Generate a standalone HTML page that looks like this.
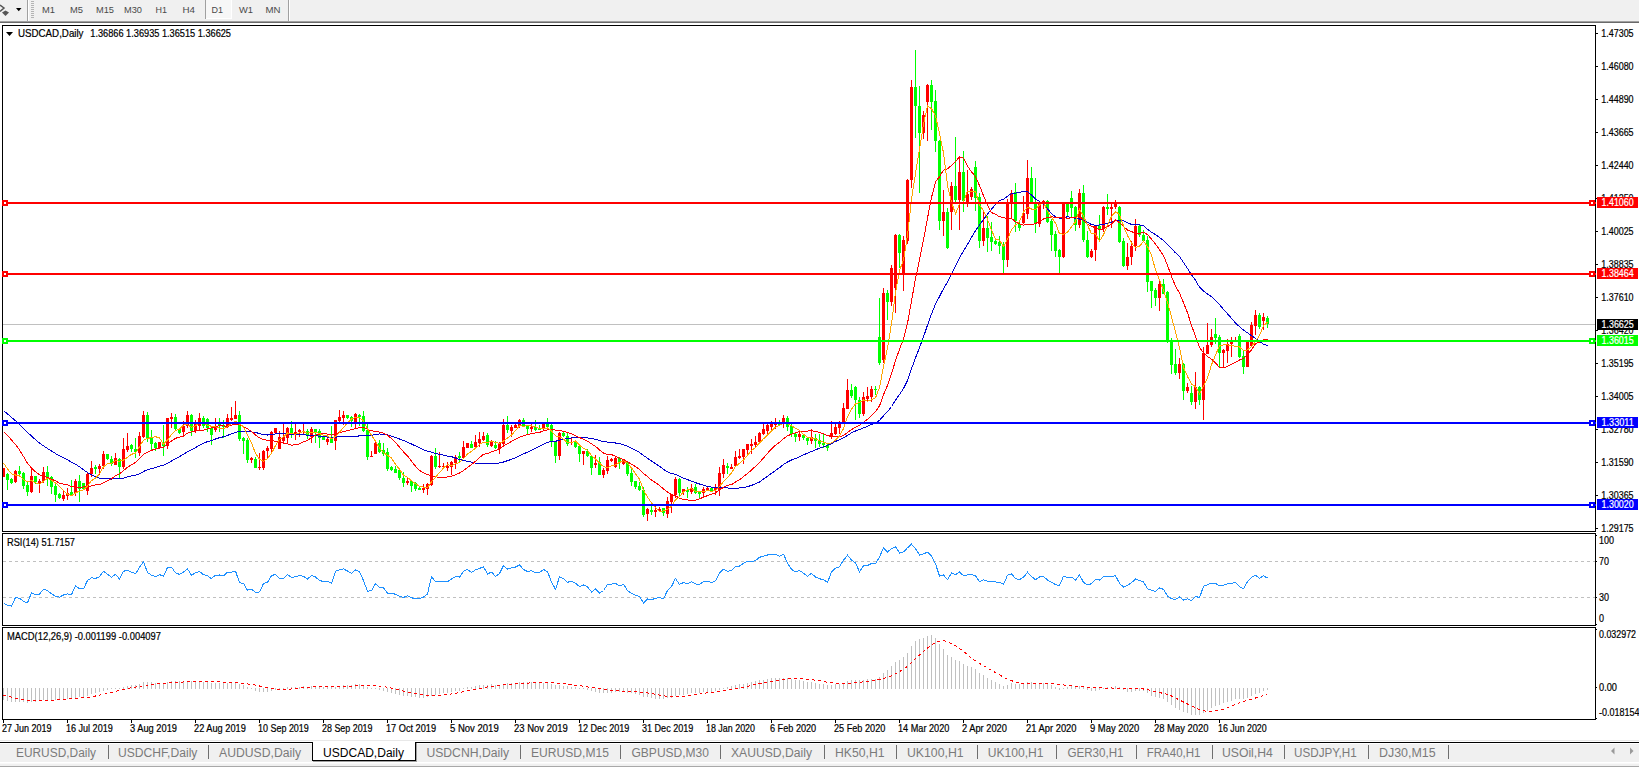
<!DOCTYPE html>
<html><head><meta charset="utf-8"><title>USDCAD,Daily</title>
<style>html,body{margin:0;padding:0;background:#fff;overflow:hidden}body{width:1639px;height:769px;position:relative;font-family:"Liberation Sans",sans-serif}svg text{font-family:"Liberation Sans",sans-serif}</style></head>
<body>
<svg width="1639" height="769" viewBox="0 0 1639 769" style="position:absolute;left:0;top:0" font-family="Liberation Sans, sans-serif">
<defs><clipPath id="cm"><rect x="3" y="26" width="1592" height="505"/></clipPath><clipPath id="cr"><rect x="3" y="534" width="1592" height="91"/></clipPath><clipPath id="cd"><rect x="3" y="628" width="1592" height="91"/></clipPath></defs>
<g shape-rendering="crispEdges">
<rect x="0" y="0" width="1639" height="769" fill="#fff"/>
<rect x="0" y="0" width="1639" height="21" fill="#f0f0f0"/>
<rect x="0" y="21" width="1639" height="1" fill="#a0a0a0"/>
<rect x="0" y="22" width="1639" height="1" fill="#696969"/>
<rect x="27" y="0" width="1" height="21" fill="#a0a0a0"/><rect x="28" y="0" width="1" height="21" fill="#fff"/>
<rect x="31" y="1" width="3" height="1" fill="#b4b4b4"/>
<rect x="31" y="3" width="3" height="1" fill="#b4b4b4"/>
<rect x="31" y="5" width="3" height="1" fill="#b4b4b4"/>
<rect x="31" y="7" width="3" height="1" fill="#b4b4b4"/>
<rect x="31" y="9" width="3" height="1" fill="#b4b4b4"/>
<rect x="31" y="11" width="3" height="1" fill="#b4b4b4"/>
<rect x="31" y="13" width="3" height="1" fill="#b4b4b4"/>
<rect x="31" y="15" width="3" height="1" fill="#b4b4b4"/>
<rect x="31" y="17" width="3" height="1" fill="#b4b4b4"/>
<rect x="205" y="0" width="1" height="19" fill="#a0a0a0"/>
<rect x="206" y="0" width="25" height="18" fill="#f7f7f7"/>
<rect x="206" y="18" width="26" height="1" fill="#fff"/><rect x="231" y="0" width="1" height="19" fill="#fff"/>
<rect x="288" y="0" width="1" height="21" fill="#a0a0a0"/><rect x="289" y="0" width="1" height="21" fill="#fff"/>
<rect x="2" y="25" width="1594" height="1" fill="#000"/>
<rect x="2" y="531" width="1594" height="1" fill="#000"/>
<rect x="2" y="25" width="1" height="507" fill="#000"/>
<rect x="1595" y="25" width="1" height="507" fill="#000"/>
<rect x="2" y="533" width="1594" height="1" fill="#000"/>
<rect x="2" y="625" width="1594" height="1" fill="#000"/>
<rect x="2" y="533" width="1" height="93" fill="#000"/>
<rect x="1595" y="533" width="1" height="93" fill="#000"/>
<rect x="2" y="627" width="1594" height="1" fill="#000"/>
<rect x="2" y="719" width="1594" height="1" fill="#000"/>
<rect x="2" y="627" width="1" height="93" fill="#000"/>
<rect x="1595" y="627" width="1" height="93" fill="#000"/>
<rect x="3" y="324" width="1592" height="1" fill="#c0c0c0"/>
<line x1="3" y1="561.5" x2="1595" y2="561.5" stroke="#c0c0c0" stroke-width="1" stroke-dasharray="3,3"/>
<line x1="3" y1="597.5" x2="1595" y2="597.5" stroke="#c0c0c0" stroke-width="1" stroke-dasharray="3,3"/>
<rect x="3" y="688" width="1" height="12" fill="#c0c0c0"/>
<rect x="7" y="688" width="1" height="13" fill="#c0c0c0"/>
<rect x="11" y="688" width="1" height="14" fill="#c0c0c0"/>
<rect x="15" y="688" width="1" height="14" fill="#c0c0c0"/>
<rect x="19" y="688" width="1" height="14" fill="#c0c0c0"/>
<rect x="23" y="688" width="1" height="14" fill="#c0c0c0"/>
<rect x="27" y="688" width="1" height="15" fill="#c0c0c0"/>
<rect x="31" y="688" width="1" height="14" fill="#c0c0c0"/>
<rect x="35" y="688" width="1" height="14" fill="#c0c0c0"/>
<rect x="39" y="688" width="1" height="13" fill="#c0c0c0"/>
<rect x="43" y="688" width="1" height="12" fill="#c0c0c0"/>
<rect x="47" y="688" width="1" height="12" fill="#c0c0c0"/>
<rect x="51" y="688" width="1" height="12" fill="#c0c0c0"/>
<rect x="55" y="688" width="1" height="12" fill="#c0c0c0"/>
<rect x="59" y="688" width="1" height="12" fill="#c0c0c0"/>
<rect x="63" y="688" width="1" height="12" fill="#c0c0c0"/>
<rect x="67" y="688" width="1" height="11" fill="#c0c0c0"/>
<rect x="71" y="688" width="1" height="11" fill="#c0c0c0"/>
<rect x="75" y="688" width="1" height="10" fill="#c0c0c0"/>
<rect x="79" y="688" width="1" height="9" fill="#c0c0c0"/>
<rect x="83" y="688" width="1" height="9" fill="#c0c0c0"/>
<rect x="87" y="688" width="1" height="8" fill="#c0c0c0"/>
<rect x="91" y="688" width="1" height="6" fill="#c0c0c0"/>
<rect x="95" y="688" width="1" height="5" fill="#c0c0c0"/>
<rect x="99" y="688" width="1" height="4" fill="#c0c0c0"/>
<rect x="103" y="688" width="1" height="3" fill="#c0c0c0"/>
<rect x="107" y="688" width="1" height="2" fill="#c0c0c0"/>
<rect x="111" y="688" width="1" height="1" fill="#c0c0c0"/>
<rect x="115" y="688" width="1" height="1" fill="#c0c0c0"/>
<rect x="119" y="688" width="1" height="1" fill="#c0c0c0"/>
<rect x="123" y="687" width="1" height="2" fill="#c0c0c0"/>
<rect x="127" y="686" width="1" height="3" fill="#c0c0c0"/>
<rect x="131" y="685" width="1" height="4" fill="#c0c0c0"/>
<rect x="135" y="685" width="1" height="4" fill="#c0c0c0"/>
<rect x="139" y="684" width="1" height="5" fill="#c0c0c0"/>
<rect x="143" y="682" width="1" height="7" fill="#c0c0c0"/>
<rect x="147" y="682" width="1" height="7" fill="#c0c0c0"/>
<rect x="151" y="682" width="1" height="7" fill="#c0c0c0"/>
<rect x="155" y="683" width="1" height="6" fill="#c0c0c0"/>
<rect x="159" y="683" width="1" height="6" fill="#c0c0c0"/>
<rect x="163" y="683" width="1" height="6" fill="#c0c0c0"/>
<rect x="167" y="682" width="1" height="7" fill="#c0c0c0"/>
<rect x="171" y="681" width="1" height="8" fill="#c0c0c0"/>
<rect x="175" y="681" width="1" height="8" fill="#c0c0c0"/>
<rect x="179" y="681" width="1" height="8" fill="#c0c0c0"/>
<rect x="183" y="681" width="1" height="8" fill="#c0c0c0"/>
<rect x="187" y="681" width="1" height="8" fill="#c0c0c0"/>
<rect x="191" y="681" width="1" height="8" fill="#c0c0c0"/>
<rect x="195" y="681" width="1" height="8" fill="#c0c0c0"/>
<rect x="199" y="681" width="1" height="8" fill="#c0c0c0"/>
<rect x="203" y="682" width="1" height="7" fill="#c0c0c0"/>
<rect x="207" y="682" width="1" height="7" fill="#c0c0c0"/>
<rect x="211" y="683" width="1" height="6" fill="#c0c0c0"/>
<rect x="215" y="683" width="1" height="6" fill="#c0c0c0"/>
<rect x="219" y="683" width="1" height="6" fill="#c0c0c0"/>
<rect x="223" y="683" width="1" height="6" fill="#c0c0c0"/>
<rect x="227" y="683" width="1" height="6" fill="#c0c0c0"/>
<rect x="231" y="683" width="1" height="6" fill="#c0c0c0"/>
<rect x="235" y="683" width="1" height="6" fill="#c0c0c0"/>
<rect x="239" y="684" width="1" height="5" fill="#c0c0c0"/>
<rect x="243" y="685" width="1" height="4" fill="#c0c0c0"/>
<rect x="247" y="687" width="1" height="2" fill="#c0c0c0"/>
<rect x="251" y="688" width="1" height="1" fill="#c0c0c0"/>
<rect x="255" y="688" width="1" height="3" fill="#c0c0c0"/>
<rect x="259" y="688" width="1" height="4" fill="#c0c0c0"/>
<rect x="263" y="688" width="1" height="4" fill="#c0c0c0"/>
<rect x="267" y="688" width="1" height="4" fill="#c0c0c0"/>
<rect x="271" y="688" width="1" height="3" fill="#c0c0c0"/>
<rect x="275" y="688" width="1" height="2" fill="#c0c0c0"/>
<rect x="279" y="688" width="1" height="1" fill="#c0c0c0"/>
<rect x="283" y="688" width="1" height="1" fill="#c0c0c0"/>
<rect x="287" y="687" width="1" height="2" fill="#c0c0c0"/>
<rect x="291" y="687" width="1" height="2" fill="#c0c0c0"/>
<rect x="295" y="687" width="1" height="2" fill="#c0c0c0"/>
<rect x="299" y="687" width="1" height="2" fill="#c0c0c0"/>
<rect x="303" y="686" width="1" height="3" fill="#c0c0c0"/>
<rect x="307" y="687" width="1" height="2" fill="#c0c0c0"/>
<rect x="311" y="686" width="1" height="3" fill="#c0c0c0"/>
<rect x="315" y="686" width="1" height="3" fill="#c0c0c0"/>
<rect x="319" y="687" width="1" height="2" fill="#c0c0c0"/>
<rect x="323" y="687" width="1" height="2" fill="#c0c0c0"/>
<rect x="327" y="687" width="1" height="2" fill="#c0c0c0"/>
<rect x="331" y="687" width="1" height="2" fill="#c0c0c0"/>
<rect x="335" y="687" width="1" height="2" fill="#c0c0c0"/>
<rect x="339" y="686" width="1" height="3" fill="#c0c0c0"/>
<rect x="343" y="685" width="1" height="4" fill="#c0c0c0"/>
<rect x="347" y="685" width="1" height="4" fill="#c0c0c0"/>
<rect x="351" y="685" width="1" height="4" fill="#c0c0c0"/>
<rect x="355" y="684" width="1" height="5" fill="#c0c0c0"/>
<rect x="359" y="684" width="1" height="5" fill="#c0c0c0"/>
<rect x="363" y="685" width="1" height="4" fill="#c0c0c0"/>
<rect x="367" y="687" width="1" height="2" fill="#c0c0c0"/>
<rect x="371" y="688" width="1" height="1" fill="#c0c0c0"/>
<rect x="375" y="688" width="1" height="1" fill="#c0c0c0"/>
<rect x="379" y="688" width="1" height="2" fill="#c0c0c0"/>
<rect x="383" y="688" width="1" height="3" fill="#c0c0c0"/>
<rect x="387" y="688" width="1" height="4" fill="#c0c0c0"/>
<rect x="391" y="688" width="1" height="5" fill="#c0c0c0"/>
<rect x="395" y="688" width="1" height="6" fill="#c0c0c0"/>
<rect x="399" y="688" width="1" height="7" fill="#c0c0c0"/>
<rect x="403" y="688" width="1" height="8" fill="#c0c0c0"/>
<rect x="407" y="688" width="1" height="8" fill="#c0c0c0"/>
<rect x="411" y="688" width="1" height="9" fill="#c0c0c0"/>
<rect x="415" y="688" width="1" height="9" fill="#c0c0c0"/>
<rect x="419" y="688" width="1" height="10" fill="#c0c0c0"/>
<rect x="423" y="688" width="1" height="10" fill="#c0c0c0"/>
<rect x="427" y="688" width="1" height="9" fill="#c0c0c0"/>
<rect x="431" y="688" width="1" height="8" fill="#c0c0c0"/>
<rect x="435" y="688" width="1" height="7" fill="#c0c0c0"/>
<rect x="439" y="688" width="1" height="6" fill="#c0c0c0"/>
<rect x="443" y="688" width="1" height="5" fill="#c0c0c0"/>
<rect x="447" y="688" width="1" height="5" fill="#c0c0c0"/>
<rect x="451" y="688" width="1" height="4" fill="#c0c0c0"/>
<rect x="455" y="688" width="1" height="3" fill="#c0c0c0"/>
<rect x="459" y="688" width="1" height="3" fill="#c0c0c0"/>
<rect x="463" y="688" width="1" height="1" fill="#c0c0c0"/>
<rect x="467" y="687" width="1" height="2" fill="#c0c0c0"/>
<rect x="471" y="687" width="1" height="2" fill="#c0c0c0"/>
<rect x="475" y="686" width="1" height="3" fill="#c0c0c0"/>
<rect x="479" y="685" width="1" height="4" fill="#c0c0c0"/>
<rect x="483" y="685" width="1" height="4" fill="#c0c0c0"/>
<rect x="487" y="685" width="1" height="4" fill="#c0c0c0"/>
<rect x="491" y="684" width="1" height="5" fill="#c0c0c0"/>
<rect x="495" y="685" width="1" height="4" fill="#c0c0c0"/>
<rect x="499" y="685" width="1" height="4" fill="#c0c0c0"/>
<rect x="503" y="684" width="1" height="5" fill="#c0c0c0"/>
<rect x="507" y="683" width="1" height="6" fill="#c0c0c0"/>
<rect x="511" y="683" width="1" height="6" fill="#c0c0c0"/>
<rect x="515" y="683" width="1" height="6" fill="#c0c0c0"/>
<rect x="519" y="682" width="1" height="7" fill="#c0c0c0"/>
<rect x="523" y="682" width="1" height="7" fill="#c0c0c0"/>
<rect x="527" y="682" width="1" height="7" fill="#c0c0c0"/>
<rect x="531" y="682" width="1" height="7" fill="#c0c0c0"/>
<rect x="535" y="683" width="1" height="6" fill="#c0c0c0"/>
<rect x="539" y="683" width="1" height="6" fill="#c0c0c0"/>
<rect x="543" y="683" width="1" height="6" fill="#c0c0c0"/>
<rect x="547" y="683" width="1" height="6" fill="#c0c0c0"/>
<rect x="551" y="684" width="1" height="5" fill="#c0c0c0"/>
<rect x="555" y="685" width="1" height="4" fill="#c0c0c0"/>
<rect x="559" y="685" width="1" height="4" fill="#c0c0c0"/>
<rect x="563" y="686" width="1" height="3" fill="#c0c0c0"/>
<rect x="567" y="686" width="1" height="3" fill="#c0c0c0"/>
<rect x="571" y="687" width="1" height="2" fill="#c0c0c0"/>
<rect x="575" y="687" width="1" height="2" fill="#c0c0c0"/>
<rect x="579" y="688" width="1" height="1" fill="#c0c0c0"/>
<rect x="583" y="688" width="1" height="1" fill="#c0c0c0"/>
<rect x="587" y="688" width="1" height="2" fill="#c0c0c0"/>
<rect x="591" y="688" width="1" height="3" fill="#c0c0c0"/>
<rect x="595" y="688" width="1" height="4" fill="#c0c0c0"/>
<rect x="599" y="688" width="1" height="5" fill="#c0c0c0"/>
<rect x="603" y="688" width="1" height="5" fill="#c0c0c0"/>
<rect x="607" y="688" width="1" height="5" fill="#c0c0c0"/>
<rect x="611" y="688" width="1" height="5" fill="#c0c0c0"/>
<rect x="615" y="688" width="1" height="4" fill="#c0c0c0"/>
<rect x="619" y="688" width="1" height="4" fill="#c0c0c0"/>
<rect x="623" y="688" width="1" height="4" fill="#c0c0c0"/>
<rect x="627" y="688" width="1" height="5" fill="#c0c0c0"/>
<rect x="631" y="688" width="1" height="5" fill="#c0c0c0"/>
<rect x="635" y="688" width="1" height="6" fill="#c0c0c0"/>
<rect x="639" y="688" width="1" height="7" fill="#c0c0c0"/>
<rect x="643" y="688" width="1" height="9" fill="#c0c0c0"/>
<rect x="647" y="688" width="1" height="9" fill="#c0c0c0"/>
<rect x="651" y="688" width="1" height="10" fill="#c0c0c0"/>
<rect x="655" y="688" width="1" height="11" fill="#c0c0c0"/>
<rect x="659" y="688" width="1" height="11" fill="#c0c0c0"/>
<rect x="663" y="688" width="1" height="11" fill="#c0c0c0"/>
<rect x="667" y="688" width="1" height="10" fill="#c0c0c0"/>
<rect x="671" y="688" width="1" height="10" fill="#c0c0c0"/>
<rect x="675" y="688" width="1" height="8" fill="#c0c0c0"/>
<rect x="679" y="688" width="1" height="7" fill="#c0c0c0"/>
<rect x="683" y="688" width="1" height="7" fill="#c0c0c0"/>
<rect x="687" y="688" width="1" height="6" fill="#c0c0c0"/>
<rect x="691" y="688" width="1" height="5" fill="#c0c0c0"/>
<rect x="695" y="688" width="1" height="5" fill="#c0c0c0"/>
<rect x="699" y="688" width="1" height="5" fill="#c0c0c0"/>
<rect x="703" y="688" width="1" height="4" fill="#c0c0c0"/>
<rect x="707" y="688" width="1" height="4" fill="#c0c0c0"/>
<rect x="711" y="688" width="1" height="4" fill="#c0c0c0"/>
<rect x="715" y="688" width="1" height="3" fill="#c0c0c0"/>
<rect x="719" y="688" width="1" height="2" fill="#c0c0c0"/>
<rect x="723" y="688" width="1" height="1" fill="#c0c0c0"/>
<rect x="727" y="687" width="1" height="2" fill="#c0c0c0"/>
<rect x="731" y="686" width="1" height="3" fill="#c0c0c0"/>
<rect x="735" y="685" width="1" height="4" fill="#c0c0c0"/>
<rect x="739" y="684" width="1" height="5" fill="#c0c0c0"/>
<rect x="743" y="684" width="1" height="5" fill="#c0c0c0"/>
<rect x="747" y="683" width="1" height="6" fill="#c0c0c0"/>
<rect x="751" y="682" width="1" height="7" fill="#c0c0c0"/>
<rect x="755" y="681" width="1" height="8" fill="#c0c0c0"/>
<rect x="759" y="680" width="1" height="9" fill="#c0c0c0"/>
<rect x="763" y="680" width="1" height="9" fill="#c0c0c0"/>
<rect x="767" y="679" width="1" height="10" fill="#c0c0c0"/>
<rect x="771" y="678" width="1" height="11" fill="#c0c0c0"/>
<rect x="775" y="678" width="1" height="11" fill="#c0c0c0"/>
<rect x="779" y="678" width="1" height="11" fill="#c0c0c0"/>
<rect x="783" y="678" width="1" height="11" fill="#c0c0c0"/>
<rect x="787" y="678" width="1" height="11" fill="#c0c0c0"/>
<rect x="791" y="679" width="1" height="10" fill="#c0c0c0"/>
<rect x="795" y="680" width="1" height="9" fill="#c0c0c0"/>
<rect x="799" y="680" width="1" height="9" fill="#c0c0c0"/>
<rect x="803" y="681" width="1" height="8" fill="#c0c0c0"/>
<rect x="807" y="682" width="1" height="7" fill="#c0c0c0"/>
<rect x="811" y="682" width="1" height="7" fill="#c0c0c0"/>
<rect x="815" y="683" width="1" height="6" fill="#c0c0c0"/>
<rect x="819" y="684" width="1" height="5" fill="#c0c0c0"/>
<rect x="823" y="684" width="1" height="5" fill="#c0c0c0"/>
<rect x="827" y="685" width="1" height="4" fill="#c0c0c0"/>
<rect x="831" y="685" width="1" height="4" fill="#c0c0c0"/>
<rect x="835" y="684" width="1" height="5" fill="#c0c0c0"/>
<rect x="839" y="684" width="1" height="5" fill="#c0c0c0"/>
<rect x="843" y="683" width="1" height="6" fill="#c0c0c0"/>
<rect x="847" y="681" width="1" height="8" fill="#c0c0c0"/>
<rect x="851" y="680" width="1" height="9" fill="#c0c0c0"/>
<rect x="855" y="680" width="1" height="9" fill="#c0c0c0"/>
<rect x="859" y="680" width="1" height="9" fill="#c0c0c0"/>
<rect x="863" y="680" width="1" height="9" fill="#c0c0c0"/>
<rect x="867" y="679" width="1" height="10" fill="#c0c0c0"/>
<rect x="871" y="679" width="1" height="10" fill="#c0c0c0"/>
<rect x="875" y="679" width="1" height="10" fill="#c0c0c0"/>
<rect x="879" y="677" width="1" height="12" fill="#c0c0c0"/>
<rect x="883" y="673" width="1" height="16" fill="#c0c0c0"/>
<rect x="887" y="670" width="1" height="19" fill="#c0c0c0"/>
<rect x="891" y="666" width="1" height="23" fill="#c0c0c0"/>
<rect x="895" y="662" width="1" height="27" fill="#c0c0c0"/>
<rect x="899" y="660" width="1" height="29" fill="#c0c0c0"/>
<rect x="903" y="657" width="1" height="32" fill="#c0c0c0"/>
<rect x="907" y="653" width="1" height="36" fill="#c0c0c0"/>
<rect x="911" y="646" width="1" height="43" fill="#c0c0c0"/>
<rect x="915" y="641" width="1" height="48" fill="#c0c0c0"/>
<rect x="919" y="639" width="1" height="50" fill="#c0c0c0"/>
<rect x="923" y="638" width="1" height="51" fill="#c0c0c0"/>
<rect x="927" y="636" width="1" height="53" fill="#c0c0c0"/>
<rect x="931" y="635" width="1" height="54" fill="#c0c0c0"/>
<rect x="935" y="638" width="1" height="51" fill="#c0c0c0"/>
<rect x="939" y="644" width="1" height="45" fill="#c0c0c0"/>
<rect x="943" y="649" width="1" height="40" fill="#c0c0c0"/>
<rect x="947" y="655" width="1" height="34" fill="#c0c0c0"/>
<rect x="951" y="657" width="1" height="32" fill="#c0c0c0"/>
<rect x="955" y="660" width="1" height="29" fill="#c0c0c0"/>
<rect x="959" y="661" width="1" height="28" fill="#c0c0c0"/>
<rect x="963" y="664" width="1" height="25" fill="#c0c0c0"/>
<rect x="967" y="666" width="1" height="23" fill="#c0c0c0"/>
<rect x="971" y="667" width="1" height="22" fill="#c0c0c0"/>
<rect x="975" y="669" width="1" height="20" fill="#c0c0c0"/>
<rect x="979" y="673" width="1" height="16" fill="#c0c0c0"/>
<rect x="983" y="675" width="1" height="14" fill="#c0c0c0"/>
<rect x="987" y="678" width="1" height="11" fill="#c0c0c0"/>
<rect x="991" y="680" width="1" height="9" fill="#c0c0c0"/>
<rect x="995" y="682" width="1" height="7" fill="#c0c0c0"/>
<rect x="999" y="684" width="1" height="5" fill="#c0c0c0"/>
<rect x="1003" y="686" width="1" height="3" fill="#c0c0c0"/>
<rect x="1007" y="685" width="1" height="4" fill="#c0c0c0"/>
<rect x="1011" y="683" width="1" height="6" fill="#c0c0c0"/>
<rect x="1015" y="684" width="1" height="5" fill="#c0c0c0"/>
<rect x="1019" y="684" width="1" height="5" fill="#c0c0c0"/>
<rect x="1023" y="684" width="1" height="5" fill="#c0c0c0"/>
<rect x="1027" y="682" width="1" height="7" fill="#c0c0c0"/>
<rect x="1031" y="682" width="1" height="7" fill="#c0c0c0"/>
<rect x="1035" y="683" width="1" height="6" fill="#c0c0c0"/>
<rect x="1039" y="683" width="1" height="6" fill="#c0c0c0"/>
<rect x="1043" y="683" width="1" height="6" fill="#c0c0c0"/>
<rect x="1047" y="684" width="1" height="5" fill="#c0c0c0"/>
<rect x="1051" y="685" width="1" height="4" fill="#c0c0c0"/>
<rect x="1055" y="687" width="1" height="2" fill="#c0c0c0"/>
<rect x="1059" y="688" width="1" height="2" fill="#c0c0c0"/>
<rect x="1063" y="688" width="1" height="1" fill="#c0c0c0"/>
<rect x="1067" y="687" width="1" height="2" fill="#c0c0c0"/>
<rect x="1071" y="686" width="1" height="3" fill="#c0c0c0"/>
<rect x="1075" y="687" width="1" height="2" fill="#c0c0c0"/>
<rect x="1079" y="686" width="1" height="3" fill="#c0c0c0"/>
<rect x="1083" y="687" width="1" height="2" fill="#c0c0c0"/>
<rect x="1087" y="688" width="1" height="2" fill="#c0c0c0"/>
<rect x="1091" y="688" width="1" height="3" fill="#c0c0c0"/>
<rect x="1095" y="688" width="1" height="3" fill="#c0c0c0"/>
<rect x="1099" y="688" width="1" height="2" fill="#c0c0c0"/>
<rect x="1103" y="688" width="1" height="1" fill="#c0c0c0"/>
<rect x="1107" y="687" width="1" height="2" fill="#c0c0c0"/>
<rect x="1111" y="687" width="1" height="2" fill="#c0c0c0"/>
<rect x="1115" y="686" width="1" height="3" fill="#c0c0c0"/>
<rect x="1119" y="687" width="1" height="2" fill="#c0c0c0"/>
<rect x="1123" y="688" width="1" height="2" fill="#c0c0c0"/>
<rect x="1127" y="688" width="1" height="4" fill="#c0c0c0"/>
<rect x="1131" y="688" width="1" height="4" fill="#c0c0c0"/>
<rect x="1135" y="688" width="1" height="3" fill="#c0c0c0"/>
<rect x="1139" y="688" width="1" height="3" fill="#c0c0c0"/>
<rect x="1143" y="688" width="1" height="3" fill="#c0c0c0"/>
<rect x="1147" y="688" width="1" height="5" fill="#c0c0c0"/>
<rect x="1151" y="688" width="1" height="8" fill="#c0c0c0"/>
<rect x="1155" y="688" width="1" height="9" fill="#c0c0c0"/>
<rect x="1159" y="688" width="1" height="10" fill="#c0c0c0"/>
<rect x="1163" y="688" width="1" height="11" fill="#c0c0c0"/>
<rect x="1167" y="688" width="1" height="14" fill="#c0c0c0"/>
<rect x="1171" y="688" width="1" height="17" fill="#c0c0c0"/>
<rect x="1175" y="688" width="1" height="20" fill="#c0c0c0"/>
<rect x="1179" y="688" width="1" height="22" fill="#c0c0c0"/>
<rect x="1183" y="688" width="1" height="24" fill="#c0c0c0"/>
<rect x="1187" y="688" width="1" height="25" fill="#c0c0c0"/>
<rect x="1191" y="688" width="1" height="27" fill="#c0c0c0"/>
<rect x="1195" y="688" width="1" height="27" fill="#c0c0c0"/>
<rect x="1199" y="688" width="1" height="27" fill="#c0c0c0"/>
<rect x="1203" y="688" width="1" height="25" fill="#c0c0c0"/>
<rect x="1207" y="688" width="1" height="23" fill="#c0c0c0"/>
<rect x="1211" y="688" width="1" height="20" fill="#c0c0c0"/>
<rect x="1215" y="688" width="1" height="18" fill="#c0c0c0"/>
<rect x="1219" y="688" width="1" height="17" fill="#c0c0c0"/>
<rect x="1223" y="688" width="1" height="15" fill="#c0c0c0"/>
<rect x="1227" y="688" width="1" height="14" fill="#c0c0c0"/>
<rect x="1231" y="688" width="1" height="13" fill="#c0c0c0"/>
<rect x="1235" y="688" width="1" height="11" fill="#c0c0c0"/>
<rect x="1239" y="688" width="1" height="11" fill="#c0c0c0"/>
<rect x="1243" y="688" width="1" height="11" fill="#c0c0c0"/>
<rect x="1247" y="688" width="1" height="10" fill="#c0c0c0"/>
<rect x="1251" y="688" width="1" height="8" fill="#c0c0c0"/>
<rect x="1255" y="688" width="1" height="6" fill="#c0c0c0"/>
<rect x="1259" y="688" width="1" height="5" fill="#c0c0c0"/>
<rect x="1263" y="688" width="1" height="3" fill="#c0c0c0"/>
<rect x="1267" y="688" width="1" height="2" fill="#c0c0c0"/>
</g>
<g clip-path="url(#cd)">
<polyline points="3.5,695.1 7.5,696.1 11.5,697.2 15.5,698.1 19.5,699.0 23.5,699.7 27.5,700.3 31.5,700.7 35.5,700.9 39.5,701.0 43.5,700.9 47.5,700.6 51.5,700.3 55.5,700.0 59.5,699.8 63.5,699.4 67.5,699.1 71.5,698.8 75.5,698.4 79.5,698.1 83.5,697.8 87.5,697.4 91.5,696.8 95.5,696.0 99.5,695.2 103.5,694.3 107.5,693.2 111.5,692.3 115.5,691.3 119.5,690.4 123.5,689.5 127.5,688.6 131.5,687.8 135.5,687.1 139.5,686.5 143.5,685.8 147.5,685.1 151.5,684.5 155.5,683.9 159.5,683.5 163.5,683.2 167.5,682.9 171.5,682.5 175.5,682.2 179.5,682.1 183.5,682.0 187.5,681.9 191.5,681.7 195.5,681.5 199.5,681.3 203.5,681.3 207.5,681.4 211.5,681.6 215.5,681.7 219.5,681.9 223.5,682.2 227.5,682.4 231.5,682.6 235.5,682.8 239.5,683.1 243.5,683.4 247.5,683.9 251.5,684.4 255.5,685.1 259.5,686.0 263.5,686.8 267.5,687.6 271.5,688.3 275.5,688.9 279.5,689.2 283.5,689.4 287.5,689.3 291.5,689.0 295.5,688.6 299.5,688.1 303.5,687.7 307.5,687.4 311.5,687.1 315.5,686.9 319.5,686.7 323.5,686.7 327.5,686.6 331.5,686.7 335.5,686.7 339.5,686.6 343.5,686.5 347.5,686.3 351.5,686.1 355.5,685.9 359.5,685.6 363.5,685.3 367.5,685.2 371.5,685.4 375.5,685.6 379.5,686.1 383.5,686.6 387.5,687.3 391.5,688.2 395.5,689.2 399.5,690.2 403.5,691.1 407.5,691.9 411.5,692.7 415.5,693.5 419.5,694.3 423.5,694.9 427.5,695.3 431.5,695.5 435.5,695.5 439.5,695.3 443.5,695.0 447.5,694.6 451.5,694.0 455.5,693.3 459.5,692.5 463.5,691.6 467.5,690.8 471.5,690.0 475.5,689.3 479.5,688.5 483.5,687.7 487.5,687.0 491.5,686.4 495.5,685.9 499.5,685.4 503.5,685.0 507.5,684.6 511.5,684.3 515.5,684.0 519.5,683.7 523.5,683.4 527.5,683.1 531.5,682.8 535.5,682.6 539.5,682.5 543.5,682.5 547.5,682.5 551.5,682.6 555.5,683.0 559.5,683.4 563.5,683.8 567.5,684.2 571.5,684.7 575.5,685.2 579.5,685.7 583.5,686.3 587.5,686.9 591.5,687.4 595.5,688.0 599.5,688.6 603.5,689.3 607.5,689.8 611.5,690.3 615.5,690.7 619.5,691.0 623.5,691.3 627.5,691.5 631.5,691.7 635.5,691.8 639.5,692.0 643.5,692.5 647.5,693.0 651.5,693.6 655.5,694.3 659.5,695.1 663.5,695.8 667.5,696.4 671.5,696.7 675.5,696.9 679.5,696.8 683.5,696.4 687.5,696.0 691.5,695.4 695.5,694.8 699.5,694.1 703.5,693.4 707.5,692.8 711.5,692.3 715.5,691.8 719.5,691.3 723.5,690.7 727.5,690.1 731.5,689.5 735.5,688.8 739.5,688.0 743.5,687.2 747.5,686.3 751.5,685.3 755.5,684.5 759.5,683.6 763.5,682.8 767.5,682.0 771.5,681.2 775.5,680.5 779.5,679.9 783.5,679.3 787.5,678.9 791.5,678.6 795.5,678.5 799.5,678.6 803.5,678.8 807.5,679.2 811.5,679.6 815.5,680.2 819.5,680.8 823.5,681.5 827.5,682.2 831.5,682.8 835.5,683.3 839.5,683.6 843.5,683.7 847.5,683.6 851.5,683.3 855.5,682.9 859.5,682.4 863.5,681.8 867.5,681.2 871.5,680.6 875.5,680.1 879.5,679.4 883.5,678.5 887.5,677.4 891.5,675.9 895.5,673.8 899.5,671.6 903.5,669.1 907.5,666.3 911.5,662.6 915.5,658.6 919.5,654.9 923.5,651.3 927.5,648.0 931.5,645.0 935.5,642.6 939.5,641.1 943.5,640.7 947.5,641.7 951.5,643.5 955.5,645.8 959.5,648.4 963.5,651.5 967.5,654.8 971.5,658.1 975.5,660.8 979.5,663.5 983.5,665.7 987.5,668.0 991.5,670.2 995.5,672.6 999.5,674.8 1003.5,677.1 1007.5,679.1 1011.5,680.7 1015.5,681.9 1019.5,683.0 1023.5,683.7 1027.5,683.9 1031.5,684.0 1035.5,683.9 1039.5,683.6 1043.5,683.3 1047.5,683.4 1051.5,683.5 1055.5,683.8 1059.5,684.3 1063.5,684.9 1067.5,685.4 1071.5,685.8 1075.5,686.2 1079.5,686.5 1083.5,686.9 1087.5,687.3 1091.5,687.6 1095.5,687.6 1099.5,687.8 1103.5,688.0 1107.5,688.1 1111.5,688.0 1115.5,688.1 1119.5,688.1 1123.5,688.2 1127.5,688.2 1131.5,688.4 1135.5,688.5 1139.5,688.7 1143.5,689.0 1147.5,689.7 1151.5,690.6 1155.5,691.7 1159.5,692.6 1163.5,693.4 1167.5,694.5 1171.5,696.0 1175.5,697.9 1179.5,700.0 1183.5,702.0 1187.5,704.0 1191.5,705.9 1195.5,707.8 1199.5,709.6 1203.5,710.8 1207.5,711.4 1211.5,711.4 1215.5,711.0 1219.5,710.2 1223.5,709.1 1227.5,707.7 1231.5,706.1 1235.5,704.3 1239.5,702.7 1243.5,701.4 1247.5,700.3 1251.5,699.2 1255.5,698.0 1259.5,696.8 1263.5,695.6 1267.5,694.5" fill="none" stroke="#ff0000" stroke-width="1" stroke-dasharray="3,3" shape-rendering="crispEdges"/>
</g>
<g clip-path="url(#cr)">
<polyline points="3.5,602.9 7.5,605.5 11.5,606.1 15.5,597.5 19.5,598.3 23.5,601.4 27.5,602.7 31.5,593.0 35.5,594.7 39.5,594.2 43.5,589.1 47.5,590.7 51.5,593.8 55.5,596.2 59.5,597.1 63.5,595.0 67.5,593.9 71.5,594.6 75.5,585.8 79.5,588.8 83.5,588.9 87.5,580.5 91.5,577.8 95.5,578.5 99.5,576.6 103.5,571.3 107.5,574.4 111.5,577.2 115.5,574.4 119.5,579.0 123.5,571.3 127.5,570.1 131.5,572.1 135.5,573.8 139.5,567.4 143.5,561.5 147.5,572.7 151.5,575.1 155.5,576.7 159.5,574.6 163.5,576.2 167.5,567.5 171.5,567.2 175.5,572.8 179.5,574.4 183.5,572.0 187.5,568.8 191.5,575.4 195.5,572.7 199.5,571.5 203.5,574.7 207.5,575.7 211.5,578.6 215.5,575.1 219.5,575.0 223.5,575.8 227.5,572.3 231.5,572.1 235.5,571.1 239.5,582.7 243.5,583.5 247.5,590.2 251.5,589.1 255.5,592.3 259.5,592.0 263.5,583.6 267.5,582.2 271.5,575.7 275.5,574.3 279.5,578.4 283.5,578.4 287.5,574.6 291.5,577.5 295.5,576.7 299.5,575.6 303.5,576.3 307.5,579.0 311.5,575.6 315.5,577.0 319.5,580.5 323.5,581.5 327.5,581.1 331.5,583.3 335.5,571.3 339.5,569.8 343.5,568.9 347.5,571.0 351.5,573.3 355.5,569.9 359.5,571.8 363.5,580.5 367.5,591.3 371.5,590.6 375.5,583.7 379.5,587.5 383.5,587.9 387.5,593.1 391.5,593.4 395.5,594.2 399.5,596.1 403.5,597.4 407.5,595.9 411.5,597.8 415.5,598.6 419.5,598.8 423.5,597.1 427.5,594.0 431.5,576.7 435.5,581.9 439.5,581.3 443.5,581.3 447.5,581.6 451.5,579.1 455.5,576.6 459.5,577.1 463.5,571.3 467.5,569.4 471.5,572.5 475.5,569.8 479.5,568.4 483.5,566.9 487.5,574.0 491.5,572.1 495.5,576.3 499.5,573.6 503.5,565.6 507.5,569.1 511.5,567.9 515.5,567.0 519.5,564.9 523.5,569.4 527.5,571.6 531.5,570.7 535.5,573.0 539.5,572.6 543.5,569.5 547.5,571.6 551.5,581.9 555.5,589.3 559.5,576.9 563.5,578.5 567.5,582.3 571.5,581.1 575.5,583.3 579.5,586.6 583.5,585.0 587.5,586.9 591.5,591.9 595.5,589.0 599.5,593.2 603.5,590.5 607.5,584.5 611.5,584.1 615.5,583.4 619.5,585.8 623.5,584.3 627.5,590.4 631.5,593.4 635.5,595.1 639.5,596.4 643.5,603.0 647.5,598.9 651.5,599.8 655.5,598.2 659.5,597.5 663.5,598.9 667.5,590.4 671.5,586.5 675.5,578.4 679.5,584.4 683.5,582.6 687.5,583.6 691.5,581.8 695.5,584.0 699.5,584.4 703.5,581.4 707.5,581.1 711.5,582.8 715.5,580.8 719.5,572.8 723.5,569.3 727.5,571.2 731.5,570.8 735.5,566.4 739.5,566.0 743.5,563.3 747.5,561.4 751.5,561.4 755.5,560.7 759.5,557.3 763.5,556.2 767.5,555.0 771.5,554.5 775.5,554.3 779.5,556.4 783.5,554.2 787.5,563.1 791.5,569.3 795.5,571.8 799.5,570.5 803.5,573.1 807.5,576.3 811.5,573.4 815.5,577.0 819.5,578.8 823.5,579.7 827.5,582.5 831.5,571.8 835.5,568.2 839.5,566.7 843.5,560.3 847.5,555.2 851.5,560.0 855.5,562.8 859.5,571.9 863.5,565.8 867.5,565.6 871.5,563.4 875.5,563.9 879.5,556.8 883.5,548.0 887.5,551.9 891.5,548.8 895.5,546.6 899.5,553.0 903.5,551.9 907.5,547.8 911.5,544.1 915.5,548.7 919.5,555.0 923.5,553.9 927.5,552.1 931.5,555.9 935.5,563.8 939.5,576.0 943.5,575.0 947.5,579.6 951.5,573.0 955.5,574.7 959.5,572.0 963.5,575.7 967.5,575.0 971.5,574.4 975.5,575.7 979.5,581.6 983.5,579.8 987.5,581.1 991.5,581.7 995.5,582.0 999.5,582.2 1003.5,584.4 1007.5,575.2 1011.5,573.8 1015.5,578.5 1019.5,579.6 1023.5,577.3 1027.5,572.2 1031.5,576.4 1035.5,579.8 1039.5,576.9 1043.5,576.4 1047.5,580.0 1051.5,582.2 1055.5,584.6 1059.5,585.6 1063.5,576.2 1067.5,577.7 1071.5,577.1 1075.5,580.1 1079.5,574.8 1083.5,582.4 1087.5,584.9 1091.5,583.7 1095.5,579.6 1099.5,580.1 1103.5,576.5 1107.5,576.8 1111.5,576.4 1115.5,575.7 1119.5,583.3 1123.5,587.1 1127.5,585.1 1131.5,582.8 1135.5,578.9 1139.5,580.6 1143.5,581.9 1147.5,588.9 1151.5,590.2 1155.5,591.3 1159.5,587.9 1163.5,589.4 1167.5,596.0 1171.5,598.7 1175.5,599.5 1179.5,597.1 1183.5,600.1 1187.5,598.8 1191.5,600.5 1195.5,596.2 1199.5,597.8 1203.5,586.3 1207.5,584.7 1211.5,583.1 1215.5,583.2 1219.5,586.0 1223.5,585.3 1227.5,583.7 1231.5,583.2 1235.5,582.8 1239.5,586.6 1243.5,588.8 1247.5,581.5 1251.5,577.5 1255.5,575.2 1259.5,578.3 1263.5,575.9 1267.5,578.0" fill="none" stroke="#1e90ff" stroke-width="1" shape-rendering="crispEdges"/>
</g>
<g clip-path="url(#cm)">
<g shape-rendering="crispEdges">
<rect x="3" y="468" width="1" height="9" fill="#ff0000"/>
<rect x="2" y="468" width="3" height="9" fill="#ff0000"/>
<rect x="7" y="473" width="1" height="17" fill="#00ff00"/>
<rect x="6" y="474" width="3" height="6" fill="#00ff00"/>
<rect x="11" y="478" width="1" height="6" fill="#00ff00"/>
<rect x="10" y="479" width="3" height="4" fill="#00ff00"/>
<rect x="15" y="470" width="1" height="13" fill="#ff0000"/>
<rect x="14" y="471" width="3" height="11" fill="#ff0000"/>
<rect x="19" y="466" width="1" height="9" fill="#00ff00"/>
<rect x="18" y="471" width="3" height="3" fill="#00ff00"/>
<rect x="23" y="472" width="1" height="17" fill="#00ff00"/>
<rect x="22" y="473" width="3" height="13" fill="#00ff00"/>
<rect x="27" y="481" width="1" height="15" fill="#00ff00"/>
<rect x="26" y="485" width="3" height="7" fill="#00ff00"/>
<rect x="31" y="469" width="1" height="24" fill="#ff0000"/>
<rect x="30" y="476" width="3" height="16" fill="#ff0000"/>
<rect x="35" y="476" width="1" height="8" fill="#00ff00"/>
<rect x="34" y="476" width="3" height="6" fill="#00ff00"/>
<rect x="39" y="479" width="1" height="14" fill="#ff0000"/>
<rect x="38" y="481" width="3" height="3" fill="#ff0000"/>
<rect x="43" y="467" width="1" height="16" fill="#ff0000"/>
<rect x="42" y="472" width="3" height="9" fill="#ff0000"/>
<rect x="47" y="466" width="1" height="20" fill="#00ff00"/>
<rect x="46" y="472" width="3" height="5" fill="#00ff00"/>
<rect x="51" y="476" width="1" height="18" fill="#00ff00"/>
<rect x="50" y="477" width="3" height="10" fill="#00ff00"/>
<rect x="55" y="482" width="1" height="20" fill="#00ff00"/>
<rect x="54" y="486" width="3" height="9" fill="#00ff00"/>
<rect x="59" y="493" width="1" height="6" fill="#00ff00"/>
<rect x="58" y="494" width="3" height="4" fill="#00ff00"/>
<rect x="63" y="491" width="1" height="10" fill="#ff0000"/>
<rect x="62" y="495" width="3" height="4" fill="#ff0000"/>
<rect x="67" y="488" width="1" height="12" fill="#ff0000"/>
<rect x="66" y="493" width="3" height="3" fill="#ff0000"/>
<rect x="71" y="480" width="1" height="16" fill="#00ff00"/>
<rect x="70" y="492" width="3" height="3" fill="#00ff00"/>
<rect x="75" y="479" width="1" height="17" fill="#ff0000"/>
<rect x="74" y="481" width="3" height="12" fill="#ff0000"/>
<rect x="79" y="475" width="1" height="27" fill="#00ff00"/>
<rect x="78" y="481" width="3" height="8" fill="#00ff00"/>
<rect x="83" y="483" width="1" height="7" fill="#00ff00"/>
<rect x="82" y="483" width="3" height="6" fill="#00ff00"/>
<rect x="87" y="473" width="1" height="22" fill="#ff0000"/>
<rect x="86" y="474" width="3" height="17" fill="#ff0000"/>
<rect x="91" y="461" width="1" height="16" fill="#ff0000"/>
<rect x="90" y="468" width="3" height="6" fill="#ff0000"/>
<rect x="95" y="465" width="1" height="9" fill="#00ff00"/>
<rect x="94" y="467" width="3" height="2" fill="#00ff00"/>
<rect x="99" y="464" width="1" height="11" fill="#ff0000"/>
<rect x="98" y="466" width="3" height="3" fill="#ff0000"/>
<rect x="103" y="451" width="1" height="18" fill="#ff0000"/>
<rect x="102" y="454" width="3" height="12" fill="#ff0000"/>
<rect x="107" y="454" width="1" height="6" fill="#00ff00"/>
<rect x="106" y="454" width="3" height="5" fill="#00ff00"/>
<rect x="111" y="456" width="1" height="10" fill="#00ff00"/>
<rect x="110" y="459" width="3" height="5" fill="#00ff00"/>
<rect x="115" y="453" width="1" height="12" fill="#ff0000"/>
<rect x="114" y="458" width="3" height="7" fill="#ff0000"/>
<rect x="119" y="458" width="1" height="20" fill="#00ff00"/>
<rect x="118" y="459" width="3" height="8" fill="#00ff00"/>
<rect x="123" y="438" width="1" height="31" fill="#ff0000"/>
<rect x="122" y="449" width="3" height="18" fill="#ff0000"/>
<rect x="127" y="433" width="1" height="19" fill="#ff0000"/>
<rect x="126" y="446" width="3" height="4" fill="#ff0000"/>
<rect x="131" y="444" width="1" height="8" fill="#00ff00"/>
<rect x="130" y="445" width="3" height="4" fill="#00ff00"/>
<rect x="135" y="438" width="1" height="20" fill="#00ff00"/>
<rect x="134" y="449" width="3" height="3" fill="#00ff00"/>
<rect x="139" y="432" width="1" height="24" fill="#ff0000"/>
<rect x="138" y="436" width="3" height="17" fill="#ff0000"/>
<rect x="143" y="411" width="1" height="27" fill="#ff0000"/>
<rect x="142" y="415" width="3" height="22" fill="#ff0000"/>
<rect x="147" y="412" width="1" height="30" fill="#00ff00"/>
<rect x="146" y="415" width="3" height="23" fill="#00ff00"/>
<rect x="151" y="430" width="1" height="20" fill="#00ff00"/>
<rect x="150" y="438" width="3" height="6" fill="#00ff00"/>
<rect x="155" y="442" width="1" height="9" fill="#00ff00"/>
<rect x="154" y="443" width="3" height="5" fill="#00ff00"/>
<rect x="159" y="442" width="1" height="7" fill="#ff0000"/>
<rect x="158" y="442" width="3" height="6" fill="#ff0000"/>
<rect x="163" y="425" width="1" height="31" fill="#00ff00"/>
<rect x="162" y="443" width="3" height="3" fill="#00ff00"/>
<rect x="167" y="418" width="1" height="31" fill="#ff0000"/>
<rect x="166" y="418" width="3" height="28" fill="#ff0000"/>
<rect x="171" y="413" width="1" height="15" fill="#ff0000"/>
<rect x="170" y="417" width="3" height="2" fill="#ff0000"/>
<rect x="175" y="414" width="1" height="17" fill="#00ff00"/>
<rect x="174" y="417" width="3" height="12" fill="#00ff00"/>
<rect x="179" y="428" width="1" height="6" fill="#00ff00"/>
<rect x="178" y="429" width="3" height="4" fill="#00ff00"/>
<rect x="183" y="421" width="1" height="16" fill="#ff0000"/>
<rect x="182" y="426" width="3" height="6" fill="#ff0000"/>
<rect x="187" y="411" width="1" height="17" fill="#ff0000"/>
<rect x="186" y="415" width="3" height="11" fill="#ff0000"/>
<rect x="191" y="414" width="1" height="22" fill="#00ff00"/>
<rect x="190" y="415" width="3" height="16" fill="#00ff00"/>
<rect x="195" y="420" width="1" height="13" fill="#ff0000"/>
<rect x="194" y="422" width="3" height="9" fill="#ff0000"/>
<rect x="199" y="413" width="1" height="17" fill="#ff0000"/>
<rect x="198" y="418" width="3" height="8" fill="#ff0000"/>
<rect x="203" y="416" width="1" height="12" fill="#00ff00"/>
<rect x="202" y="418" width="3" height="8" fill="#00ff00"/>
<rect x="207" y="418" width="1" height="14" fill="#00ff00"/>
<rect x="206" y="419" width="3" height="9" fill="#00ff00"/>
<rect x="211" y="427" width="1" height="18" fill="#00ff00"/>
<rect x="210" y="428" width="3" height="7" fill="#00ff00"/>
<rect x="215" y="418" width="1" height="14" fill="#ff0000"/>
<rect x="214" y="426" width="3" height="4" fill="#ff0000"/>
<rect x="219" y="418" width="1" height="14" fill="#00ff00"/>
<rect x="218" y="423" width="3" height="2" fill="#00ff00"/>
<rect x="223" y="420" width="1" height="18" fill="#00ff00"/>
<rect x="222" y="425" width="3" height="2" fill="#00ff00"/>
<rect x="227" y="414" width="1" height="14" fill="#ff0000"/>
<rect x="226" y="418" width="3" height="9" fill="#ff0000"/>
<rect x="231" y="407" width="1" height="14" fill="#ff0000"/>
<rect x="230" y="418" width="3" height="2" fill="#ff0000"/>
<rect x="235" y="401" width="1" height="18" fill="#ff0000"/>
<rect x="234" y="415" width="3" height="4" fill="#ff0000"/>
<rect x="239" y="411" width="1" height="30" fill="#00ff00"/>
<rect x="238" y="415" width="3" height="24" fill="#00ff00"/>
<rect x="243" y="437" width="1" height="17" fill="#00ff00"/>
<rect x="242" y="438" width="3" height="3" fill="#00ff00"/>
<rect x="247" y="438" width="1" height="25" fill="#00ff00"/>
<rect x="246" y="440" width="3" height="20" fill="#00ff00"/>
<rect x="251" y="457" width="1" height="6" fill="#ff0000"/>
<rect x="250" y="458" width="3" height="2" fill="#ff0000"/>
<rect x="255" y="457" width="1" height="11" fill="#00ff00"/>
<rect x="254" y="459" width="3" height="9" fill="#00ff00"/>
<rect x="259" y="453" width="1" height="17" fill="#ff0000"/>
<rect x="258" y="467" width="3" height="1" fill="#ff0000"/>
<rect x="263" y="450" width="1" height="20" fill="#ff0000"/>
<rect x="262" y="451" width="3" height="17" fill="#ff0000"/>
<rect x="267" y="446" width="1" height="13" fill="#ff0000"/>
<rect x="266" y="448" width="3" height="3" fill="#ff0000"/>
<rect x="271" y="431" width="1" height="21" fill="#ff0000"/>
<rect x="270" y="432" width="3" height="17" fill="#ff0000"/>
<rect x="275" y="428" width="1" height="6" fill="#ff0000"/>
<rect x="274" y="428" width="3" height="5" fill="#ff0000"/>
<rect x="279" y="431" width="1" height="18" fill="#ff0000"/>
<rect x="278" y="437" width="3" height="12" fill="#ff0000"/>
<rect x="283" y="424" width="1" height="19" fill="#ff0000"/>
<rect x="282" y="437" width="3" height="4" fill="#ff0000"/>
<rect x="287" y="427" width="1" height="16" fill="#ff0000"/>
<rect x="286" y="428" width="3" height="10" fill="#ff0000"/>
<rect x="291" y="421" width="1" height="17" fill="#00ff00"/>
<rect x="290" y="428" width="3" height="6" fill="#00ff00"/>
<rect x="295" y="424" width="1" height="16" fill="#ff0000"/>
<rect x="294" y="432" width="3" height="3" fill="#ff0000"/>
<rect x="299" y="429" width="1" height="8" fill="#ff0000"/>
<rect x="298" y="430" width="3" height="2" fill="#ff0000"/>
<rect x="303" y="424" width="1" height="10" fill="#ff0000"/>
<rect x="302" y="431" width="3" height="1" fill="#ff0000"/>
<rect x="307" y="429" width="1" height="10" fill="#00ff00"/>
<rect x="306" y="431" width="3" height="5" fill="#00ff00"/>
<rect x="311" y="427" width="1" height="16" fill="#ff0000"/>
<rect x="310" y="429" width="3" height="8" fill="#ff0000"/>
<rect x="315" y="429" width="1" height="14" fill="#00ff00"/>
<rect x="314" y="429" width="3" height="3" fill="#00ff00"/>
<rect x="319" y="429" width="1" height="19" fill="#00ff00"/>
<rect x="318" y="431" width="3" height="7" fill="#00ff00"/>
<rect x="323" y="436" width="1" height="4" fill="#00ff00"/>
<rect x="322" y="437" width="3" height="3" fill="#00ff00"/>
<rect x="327" y="437" width="1" height="8" fill="#ff0000"/>
<rect x="326" y="439" width="3" height="3" fill="#ff0000"/>
<rect x="331" y="426" width="1" height="17" fill="#00ff00"/>
<rect x="330" y="438" width="3" height="5" fill="#00ff00"/>
<rect x="335" y="420" width="1" height="30" fill="#ff0000"/>
<rect x="334" y="420" width="3" height="21" fill="#ff0000"/>
<rect x="339" y="410" width="1" height="12" fill="#ff0000"/>
<rect x="338" y="417" width="3" height="4" fill="#ff0000"/>
<rect x="343" y="411" width="1" height="14" fill="#ff0000"/>
<rect x="342" y="415" width="3" height="3" fill="#ff0000"/>
<rect x="347" y="415" width="1" height="4" fill="#00ff00"/>
<rect x="346" y="415" width="3" height="3" fill="#00ff00"/>
<rect x="351" y="416" width="1" height="11" fill="#00ff00"/>
<rect x="350" y="417" width="3" height="4" fill="#00ff00"/>
<rect x="355" y="413" width="1" height="16" fill="#ff0000"/>
<rect x="354" y="414" width="3" height="8" fill="#ff0000"/>
<rect x="359" y="414" width="1" height="12" fill="#00ff00"/>
<rect x="358" y="415" width="3" height="2" fill="#00ff00"/>
<rect x="363" y="411" width="1" height="21" fill="#00ff00"/>
<rect x="362" y="416" width="3" height="15" fill="#00ff00"/>
<rect x="367" y="424" width="1" height="36" fill="#00ff00"/>
<rect x="366" y="430" width="3" height="27" fill="#00ff00"/>
<rect x="371" y="451" width="1" height="6" fill="#ff0000"/>
<rect x="370" y="456" width="3" height="1" fill="#ff0000"/>
<rect x="375" y="441" width="1" height="13" fill="#ff0000"/>
<rect x="374" y="443" width="3" height="11" fill="#ff0000"/>
<rect x="379" y="440" width="1" height="13" fill="#00ff00"/>
<rect x="378" y="443" width="3" height="9" fill="#00ff00"/>
<rect x="383" y="443" width="1" height="13" fill="#00ff00"/>
<rect x="382" y="450" width="3" height="4" fill="#00ff00"/>
<rect x="387" y="448" width="1" height="23" fill="#00ff00"/>
<rect x="386" y="452" width="3" height="17" fill="#00ff00"/>
<rect x="391" y="466" width="1" height="5" fill="#00ff00"/>
<rect x="390" y="467" width="3" height="3" fill="#00ff00"/>
<rect x="395" y="466" width="1" height="7" fill="#00ff00"/>
<rect x="394" y="469" width="3" height="4" fill="#00ff00"/>
<rect x="399" y="469" width="1" height="11" fill="#00ff00"/>
<rect x="398" y="470" width="3" height="8" fill="#00ff00"/>
<rect x="403" y="472" width="1" height="15" fill="#00ff00"/>
<rect x="402" y="478" width="3" height="5" fill="#00ff00"/>
<rect x="407" y="477" width="1" height="8" fill="#ff0000"/>
<rect x="406" y="481" width="3" height="2" fill="#ff0000"/>
<rect x="411" y="480" width="1" height="12" fill="#00ff00"/>
<rect x="410" y="481" width="3" height="5" fill="#00ff00"/>
<rect x="415" y="482" width="1" height="9" fill="#00ff00"/>
<rect x="414" y="483" width="3" height="6" fill="#00ff00"/>
<rect x="419" y="486" width="1" height="4" fill="#00ff00"/>
<rect x="418" y="488" width="3" height="2" fill="#00ff00"/>
<rect x="423" y="484" width="1" height="9" fill="#ff0000"/>
<rect x="422" y="488" width="3" height="2" fill="#ff0000"/>
<rect x="427" y="483" width="1" height="12" fill="#ff0000"/>
<rect x="426" y="484" width="3" height="5" fill="#ff0000"/>
<rect x="431" y="455" width="1" height="31" fill="#ff0000"/>
<rect x="430" y="456" width="3" height="29" fill="#ff0000"/>
<rect x="435" y="448" width="1" height="21" fill="#00ff00"/>
<rect x="434" y="456" width="3" height="11" fill="#00ff00"/>
<rect x="439" y="452" width="1" height="16" fill="#ff0000"/>
<rect x="438" y="466" width="3" height="1" fill="#ff0000"/>
<rect x="443" y="463" width="1" height="6" fill="#ff0000"/>
<rect x="442" y="466" width="3" height="1" fill="#ff0000"/>
<rect x="447" y="462" width="1" height="9" fill="#ff0000"/>
<rect x="446" y="466" width="3" height="2" fill="#ff0000"/>
<rect x="451" y="461" width="1" height="14" fill="#ff0000"/>
<rect x="450" y="462" width="3" height="5" fill="#ff0000"/>
<rect x="455" y="455" width="1" height="14" fill="#ff0000"/>
<rect x="454" y="457" width="3" height="6" fill="#ff0000"/>
<rect x="459" y="452" width="1" height="10" fill="#00ff00"/>
<rect x="458" y="456" width="3" height="2" fill="#00ff00"/>
<rect x="463" y="441" width="1" height="17" fill="#ff0000"/>
<rect x="462" y="447" width="3" height="11" fill="#ff0000"/>
<rect x="467" y="443" width="1" height="5" fill="#ff0000"/>
<rect x="466" y="443" width="3" height="5" fill="#ff0000"/>
<rect x="471" y="441" width="1" height="7" fill="#00ff00"/>
<rect x="470" y="444" width="3" height="4" fill="#00ff00"/>
<rect x="475" y="435" width="1" height="13" fill="#ff0000"/>
<rect x="474" y="442" width="3" height="5" fill="#ff0000"/>
<rect x="479" y="432" width="1" height="15" fill="#ff0000"/>
<rect x="478" y="439" width="3" height="4" fill="#ff0000"/>
<rect x="483" y="432" width="1" height="9" fill="#ff0000"/>
<rect x="482" y="436" width="3" height="4" fill="#ff0000"/>
<rect x="487" y="433" width="1" height="14" fill="#00ff00"/>
<rect x="486" y="435" width="3" height="10" fill="#00ff00"/>
<rect x="491" y="440" width="1" height="7" fill="#ff0000"/>
<rect x="490" y="442" width="3" height="4" fill="#ff0000"/>
<rect x="495" y="441" width="1" height="8" fill="#00ff00"/>
<rect x="494" y="445" width="3" height="3" fill="#00ff00"/>
<rect x="499" y="442" width="1" height="12" fill="#ff0000"/>
<rect x="498" y="443" width="3" height="6" fill="#ff0000"/>
<rect x="503" y="419" width="1" height="27" fill="#ff0000"/>
<rect x="502" y="425" width="3" height="19" fill="#ff0000"/>
<rect x="507" y="416" width="1" height="17" fill="#00ff00"/>
<rect x="506" y="425" width="3" height="5" fill="#00ff00"/>
<rect x="511" y="425" width="1" height="12" fill="#ff0000"/>
<rect x="510" y="427" width="3" height="4" fill="#ff0000"/>
<rect x="515" y="424" width="1" height="4" fill="#ff0000"/>
<rect x="514" y="425" width="3" height="3" fill="#ff0000"/>
<rect x="519" y="419" width="1" height="9" fill="#ff0000"/>
<rect x="518" y="420" width="3" height="6" fill="#ff0000"/>
<rect x="523" y="418" width="1" height="9" fill="#00ff00"/>
<rect x="522" y="420" width="3" height="6" fill="#00ff00"/>
<rect x="527" y="425" width="1" height="9" fill="#00ff00"/>
<rect x="526" y="426" width="3" height="3" fill="#00ff00"/>
<rect x="531" y="424" width="1" height="8" fill="#ff0000"/>
<rect x="530" y="427" width="3" height="2" fill="#ff0000"/>
<rect x="535" y="420" width="1" height="11" fill="#00ff00"/>
<rect x="534" y="427" width="3" height="3" fill="#00ff00"/>
<rect x="539" y="425" width="1" height="5" fill="#00ff00"/>
<rect x="538" y="428" width="3" height="2" fill="#00ff00"/>
<rect x="543" y="423" width="1" height="7" fill="#ff0000"/>
<rect x="542" y="424" width="3" height="4" fill="#ff0000"/>
<rect x="547" y="418" width="1" height="11" fill="#00ff00"/>
<rect x="546" y="424" width="3" height="3" fill="#00ff00"/>
<rect x="551" y="424" width="1" height="23" fill="#00ff00"/>
<rect x="550" y="425" width="3" height="16" fill="#00ff00"/>
<rect x="555" y="441" width="1" height="22" fill="#00ff00"/>
<rect x="554" y="442" width="3" height="14" fill="#00ff00"/>
<rect x="559" y="432" width="1" height="28" fill="#ff0000"/>
<rect x="558" y="433" width="3" height="23" fill="#ff0000"/>
<rect x="563" y="432" width="1" height="5" fill="#00ff00"/>
<rect x="562" y="433" width="3" height="3" fill="#00ff00"/>
<rect x="567" y="433" width="1" height="13" fill="#00ff00"/>
<rect x="566" y="436" width="3" height="8" fill="#00ff00"/>
<rect x="571" y="438" width="1" height="7" fill="#ff0000"/>
<rect x="570" y="442" width="3" height="1" fill="#ff0000"/>
<rect x="575" y="441" width="1" height="7" fill="#00ff00"/>
<rect x="574" y="442" width="3" height="5" fill="#00ff00"/>
<rect x="579" y="445" width="1" height="17" fill="#00ff00"/>
<rect x="578" y="446" width="3" height="8" fill="#00ff00"/>
<rect x="583" y="451" width="1" height="14" fill="#ff0000"/>
<rect x="582" y="451" width="3" height="3" fill="#ff0000"/>
<rect x="587" y="449" width="1" height="8" fill="#00ff00"/>
<rect x="586" y="451" width="3" height="5" fill="#00ff00"/>
<rect x="591" y="455" width="1" height="20" fill="#00ff00"/>
<rect x="590" y="456" width="3" height="12" fill="#00ff00"/>
<rect x="595" y="455" width="1" height="13" fill="#ff0000"/>
<rect x="594" y="463" width="3" height="2" fill="#ff0000"/>
<rect x="599" y="457" width="1" height="18" fill="#00ff00"/>
<rect x="598" y="462" width="3" height="13" fill="#00ff00"/>
<rect x="603" y="468" width="1" height="10" fill="#ff0000"/>
<rect x="602" y="470" width="3" height="5" fill="#ff0000"/>
<rect x="607" y="456" width="1" height="18" fill="#ff0000"/>
<rect x="606" y="460" width="3" height="11" fill="#ff0000"/>
<rect x="611" y="458" width="1" height="4" fill="#ff0000"/>
<rect x="610" y="459" width="3" height="2" fill="#ff0000"/>
<rect x="615" y="457" width="1" height="11" fill="#ff0000"/>
<rect x="614" y="458" width="3" height="9" fill="#ff0000"/>
<rect x="619" y="457" width="1" height="12" fill="#00ff00"/>
<rect x="618" y="458" width="3" height="5" fill="#00ff00"/>
<rect x="623" y="459" width="1" height="6" fill="#ff0000"/>
<rect x="622" y="460" width="3" height="4" fill="#ff0000"/>
<rect x="627" y="461" width="1" height="15" fill="#00ff00"/>
<rect x="626" y="462" width="3" height="12" fill="#00ff00"/>
<rect x="631" y="469" width="1" height="17" fill="#00ff00"/>
<rect x="630" y="473" width="3" height="9" fill="#00ff00"/>
<rect x="635" y="481" width="1" height="8" fill="#00ff00"/>
<rect x="634" y="481" width="3" height="6" fill="#00ff00"/>
<rect x="639" y="482" width="1" height="9" fill="#00ff00"/>
<rect x="638" y="486" width="3" height="4" fill="#00ff00"/>
<rect x="643" y="487" width="1" height="30" fill="#00ff00"/>
<rect x="642" y="490" width="3" height="25" fill="#00ff00"/>
<rect x="647" y="508" width="1" height="13" fill="#ff0000"/>
<rect x="646" y="509" width="3" height="5" fill="#ff0000"/>
<rect x="651" y="503" width="1" height="12" fill="#00ff00"/>
<rect x="650" y="510" width="3" height="2" fill="#00ff00"/>
<rect x="655" y="506" width="1" height="11" fill="#ff0000"/>
<rect x="654" y="510" width="3" height="2" fill="#ff0000"/>
<rect x="659" y="507" width="1" height="5" fill="#ff0000"/>
<rect x="658" y="509" width="3" height="2" fill="#ff0000"/>
<rect x="663" y="508" width="1" height="8" fill="#00ff00"/>
<rect x="662" y="508" width="3" height="5" fill="#00ff00"/>
<rect x="667" y="497" width="1" height="21" fill="#ff0000"/>
<rect x="666" y="501" width="3" height="13" fill="#ff0000"/>
<rect x="671" y="494" width="1" height="19" fill="#ff0000"/>
<rect x="670" y="495" width="3" height="7" fill="#ff0000"/>
<rect x="675" y="477" width="1" height="21" fill="#ff0000"/>
<rect x="674" y="479" width="3" height="16" fill="#ff0000"/>
<rect x="679" y="478" width="1" height="18" fill="#00ff00"/>
<rect x="678" y="479" width="3" height="14" fill="#00ff00"/>
<rect x="683" y="489" width="1" height="6" fill="#ff0000"/>
<rect x="682" y="489" width="3" height="3" fill="#ff0000"/>
<rect x="687" y="487" width="1" height="11" fill="#00ff00"/>
<rect x="686" y="490" width="3" height="2" fill="#00ff00"/>
<rect x="691" y="484" width="1" height="10" fill="#ff0000"/>
<rect x="690" y="488" width="3" height="4" fill="#ff0000"/>
<rect x="695" y="484" width="1" height="10" fill="#00ff00"/>
<rect x="694" y="487" width="3" height="6" fill="#00ff00"/>
<rect x="699" y="491" width="1" height="7" fill="#00ff00"/>
<rect x="698" y="492" width="3" height="2" fill="#00ff00"/>
<rect x="703" y="487" width="1" height="10" fill="#ff0000"/>
<rect x="702" y="489" width="3" height="4" fill="#ff0000"/>
<rect x="707" y="486" width="1" height="4" fill="#ff0000"/>
<rect x="706" y="488" width="3" height="2" fill="#ff0000"/>
<rect x="711" y="487" width="1" height="5" fill="#00ff00"/>
<rect x="710" y="488" width="3" height="3" fill="#00ff00"/>
<rect x="715" y="484" width="1" height="11" fill="#ff0000"/>
<rect x="714" y="488" width="3" height="2" fill="#ff0000"/>
<rect x="719" y="467" width="1" height="29" fill="#ff0000"/>
<rect x="718" y="473" width="3" height="17" fill="#ff0000"/>
<rect x="723" y="459" width="1" height="19" fill="#ff0000"/>
<rect x="722" y="465" width="3" height="9" fill="#ff0000"/>
<rect x="727" y="463" width="1" height="11" fill="#00ff00"/>
<rect x="726" y="466" width="3" height="2" fill="#00ff00"/>
<rect x="731" y="464" width="1" height="5" fill="#ff0000"/>
<rect x="730" y="467" width="3" height="2" fill="#ff0000"/>
<rect x="735" y="451" width="1" height="15" fill="#ff0000"/>
<rect x="734" y="457" width="3" height="9" fill="#ff0000"/>
<rect x="739" y="449" width="1" height="10" fill="#ff0000"/>
<rect x="738" y="456" width="3" height="2" fill="#ff0000"/>
<rect x="743" y="449" width="1" height="15" fill="#ff0000"/>
<rect x="742" y="449" width="3" height="8" fill="#ff0000"/>
<rect x="747" y="444" width="1" height="10" fill="#ff0000"/>
<rect x="746" y="444" width="3" height="6" fill="#ff0000"/>
<rect x="751" y="439" width="1" height="15" fill="#ff0000"/>
<rect x="750" y="444" width="3" height="2" fill="#ff0000"/>
<rect x="755" y="436" width="1" height="11" fill="#ff0000"/>
<rect x="754" y="442" width="3" height="3" fill="#ff0000"/>
<rect x="759" y="432" width="1" height="11" fill="#ff0000"/>
<rect x="758" y="433" width="3" height="9" fill="#ff0000"/>
<rect x="763" y="424" width="1" height="11" fill="#ff0000"/>
<rect x="762" y="429" width="3" height="5" fill="#ff0000"/>
<rect x="767" y="424" width="1" height="10" fill="#ff0000"/>
<rect x="766" y="425" width="3" height="6" fill="#ff0000"/>
<rect x="771" y="421" width="1" height="11" fill="#ff0000"/>
<rect x="770" y="424" width="3" height="3" fill="#ff0000"/>
<rect x="775" y="418" width="1" height="11" fill="#ff0000"/>
<rect x="774" y="423" width="3" height="2" fill="#ff0000"/>
<rect x="779" y="420" width="1" height="6" fill="#00ff00"/>
<rect x="778" y="423" width="3" height="2" fill="#00ff00"/>
<rect x="783" y="415" width="1" height="13" fill="#ff0000"/>
<rect x="782" y="418" width="3" height="6" fill="#ff0000"/>
<rect x="787" y="416" width="1" height="15" fill="#00ff00"/>
<rect x="786" y="418" width="3" height="9" fill="#00ff00"/>
<rect x="791" y="424" width="1" height="13" fill="#00ff00"/>
<rect x="790" y="426" width="3" height="8" fill="#00ff00"/>
<rect x="795" y="432" width="1" height="10" fill="#00ff00"/>
<rect x="794" y="434" width="3" height="3" fill="#00ff00"/>
<rect x="799" y="431" width="1" height="10" fill="#ff0000"/>
<rect x="798" y="434" width="3" height="3" fill="#ff0000"/>
<rect x="803" y="434" width="1" height="6" fill="#00ff00"/>
<rect x="802" y="435" width="3" height="3" fill="#00ff00"/>
<rect x="807" y="437" width="1" height="8" fill="#00ff00"/>
<rect x="806" y="438" width="3" height="3" fill="#00ff00"/>
<rect x="811" y="429" width="1" height="15" fill="#ff0000"/>
<rect x="810" y="437" width="3" height="4" fill="#ff0000"/>
<rect x="815" y="434" width="1" height="14" fill="#00ff00"/>
<rect x="814" y="438" width="3" height="3" fill="#00ff00"/>
<rect x="819" y="434" width="1" height="13" fill="#00ff00"/>
<rect x="818" y="440" width="3" height="4" fill="#00ff00"/>
<rect x="823" y="434" width="1" height="14" fill="#00ff00"/>
<rect x="822" y="443" width="3" height="2" fill="#00ff00"/>
<rect x="827" y="444" width="1" height="7" fill="#00ff00"/>
<rect x="826" y="445" width="3" height="3" fill="#00ff00"/>
<rect x="831" y="421" width="1" height="18" fill="#ff0000"/>
<rect x="830" y="433" width="3" height="3" fill="#ff0000"/>
<rect x="835" y="424" width="1" height="11" fill="#ff0000"/>
<rect x="834" y="427" width="3" height="7" fill="#ff0000"/>
<rect x="839" y="421" width="1" height="13" fill="#ff0000"/>
<rect x="838" y="424" width="3" height="4" fill="#ff0000"/>
<rect x="843" y="403" width="1" height="21" fill="#ff0000"/>
<rect x="842" y="408" width="3" height="16" fill="#ff0000"/>
<rect x="847" y="379" width="1" height="30" fill="#ff0000"/>
<rect x="846" y="390" width="3" height="19" fill="#ff0000"/>
<rect x="851" y="384" width="1" height="14" fill="#00ff00"/>
<rect x="850" y="390" width="3" height="6" fill="#00ff00"/>
<rect x="855" y="386" width="1" height="34" fill="#00ff00"/>
<rect x="854" y="387" width="3" height="13" fill="#00ff00"/>
<rect x="859" y="397" width="1" height="21" fill="#00ff00"/>
<rect x="858" y="400" width="3" height="14" fill="#00ff00"/>
<rect x="863" y="392" width="1" height="24" fill="#ff0000"/>
<rect x="862" y="397" width="3" height="17" fill="#ff0000"/>
<rect x="867" y="387" width="1" height="15" fill="#ff0000"/>
<rect x="866" y="396" width="3" height="3" fill="#ff0000"/>
<rect x="871" y="386" width="1" height="16" fill="#ff0000"/>
<rect x="870" y="389" width="3" height="8" fill="#ff0000"/>
<rect x="875" y="386" width="1" height="9" fill="#00ff00"/>
<rect x="874" y="389" width="3" height="1" fill="#00ff00"/>
<rect x="879" y="298" width="1" height="67" fill="#00ff00"/>
<rect x="878" y="337" width="3" height="26" fill="#00ff00"/>
<rect x="883" y="288" width="1" height="75" fill="#ff0000"/>
<rect x="882" y="293" width="3" height="67" fill="#ff0000"/>
<rect x="887" y="290" width="1" height="30" fill="#00ff00"/>
<rect x="886" y="293" width="3" height="9" fill="#00ff00"/>
<rect x="891" y="265" width="1" height="41" fill="#ff0000"/>
<rect x="890" y="268" width="3" height="34" fill="#ff0000"/>
<rect x="895" y="234" width="1" height="79" fill="#ff0000"/>
<rect x="894" y="235" width="3" height="53" fill="#ff0000"/>
<rect x="899" y="234" width="1" height="34" fill="#00ff00"/>
<rect x="898" y="235" width="3" height="18" fill="#00ff00"/>
<rect x="903" y="236" width="1" height="55" fill="#ff0000"/>
<rect x="902" y="240" width="3" height="33" fill="#ff0000"/>
<rect x="907" y="179" width="1" height="65" fill="#ff0000"/>
<rect x="906" y="180" width="3" height="61" fill="#ff0000"/>
<rect x="911" y="80" width="1" height="108" fill="#ff0000"/>
<rect x="910" y="87" width="3" height="93" fill="#ff0000"/>
<rect x="915" y="50" width="1" height="88" fill="#00ff00"/>
<rect x="914" y="87" width="3" height="19" fill="#00ff00"/>
<rect x="919" y="86" width="1" height="107" fill="#00ff00"/>
<rect x="918" y="106" width="3" height="27" fill="#00ff00"/>
<rect x="923" y="111" width="1" height="28" fill="#ff0000"/>
<rect x="922" y="115" width="3" height="18" fill="#ff0000"/>
<rect x="927" y="84" width="1" height="57" fill="#ff0000"/>
<rect x="926" y="85" width="3" height="17" fill="#ff0000"/>
<rect x="931" y="80" width="1" height="50" fill="#00ff00"/>
<rect x="930" y="85" width="3" height="17" fill="#00ff00"/>
<rect x="935" y="90" width="1" height="62" fill="#00ff00"/>
<rect x="934" y="101" width="3" height="40" fill="#00ff00"/>
<rect x="939" y="140" width="1" height="90" fill="#00ff00"/>
<rect x="938" y="141" width="3" height="80" fill="#00ff00"/>
<rect x="943" y="190" width="1" height="46" fill="#ff0000"/>
<rect x="942" y="212" width="3" height="9" fill="#ff0000"/>
<rect x="947" y="208" width="1" height="41" fill="#00ff00"/>
<rect x="946" y="212" width="3" height="36" fill="#00ff00"/>
<rect x="951" y="182" width="1" height="48" fill="#ff0000"/>
<rect x="950" y="186" width="3" height="26" fill="#ff0000"/>
<rect x="955" y="137" width="1" height="67" fill="#00ff00"/>
<rect x="954" y="186" width="3" height="14" fill="#00ff00"/>
<rect x="959" y="156" width="1" height="74" fill="#ff0000"/>
<rect x="958" y="172" width="3" height="28" fill="#ff0000"/>
<rect x="963" y="151" width="1" height="61" fill="#00ff00"/>
<rect x="962" y="172" width="3" height="29" fill="#00ff00"/>
<rect x="967" y="170" width="1" height="37" fill="#ff0000"/>
<rect x="966" y="194" width="3" height="9" fill="#ff0000"/>
<rect x="971" y="187" width="1" height="13" fill="#ff0000"/>
<rect x="970" y="189" width="3" height="8" fill="#ff0000"/>
<rect x="975" y="161" width="1" height="50" fill="#00ff00"/>
<rect x="974" y="167" width="3" height="31" fill="#00ff00"/>
<rect x="979" y="193" width="1" height="55" fill="#00ff00"/>
<rect x="978" y="197" width="3" height="44" fill="#00ff00"/>
<rect x="983" y="211" width="1" height="35" fill="#ff0000"/>
<rect x="982" y="228" width="3" height="13" fill="#ff0000"/>
<rect x="987" y="216" width="1" height="36" fill="#00ff00"/>
<rect x="986" y="228" width="3" height="10" fill="#00ff00"/>
<rect x="991" y="222" width="1" height="29" fill="#00ff00"/>
<rect x="990" y="237" width="3" height="5" fill="#00ff00"/>
<rect x="995" y="240" width="1" height="5" fill="#00ff00"/>
<rect x="994" y="241" width="3" height="3" fill="#00ff00"/>
<rect x="999" y="236" width="1" height="18" fill="#00ff00"/>
<rect x="998" y="242" width="3" height="4" fill="#00ff00"/>
<rect x="1003" y="242" width="1" height="31" fill="#00ff00"/>
<rect x="1002" y="244" width="3" height="16" fill="#00ff00"/>
<rect x="1007" y="199" width="1" height="68" fill="#ff0000"/>
<rect x="1006" y="203" width="3" height="57" fill="#ff0000"/>
<rect x="1011" y="190" width="1" height="28" fill="#ff0000"/>
<rect x="1010" y="193" width="3" height="10" fill="#ff0000"/>
<rect x="1015" y="183" width="1" height="49" fill="#00ff00"/>
<rect x="1014" y="192" width="3" height="29" fill="#00ff00"/>
<rect x="1019" y="221" width="1" height="10" fill="#00ff00"/>
<rect x="1018" y="224" width="3" height="4" fill="#00ff00"/>
<rect x="1023" y="196" width="1" height="28" fill="#ff0000"/>
<rect x="1022" y="213" width="3" height="10" fill="#ff0000"/>
<rect x="1027" y="160" width="1" height="59" fill="#ff0000"/>
<rect x="1026" y="178" width="3" height="36" fill="#ff0000"/>
<rect x="1031" y="167" width="1" height="36" fill="#00ff00"/>
<rect x="1030" y="178" width="3" height="24" fill="#00ff00"/>
<rect x="1035" y="178" width="1" height="55" fill="#00ff00"/>
<rect x="1034" y="202" width="3" height="22" fill="#00ff00"/>
<rect x="1039" y="203" width="1" height="24" fill="#ff0000"/>
<rect x="1038" y="204" width="3" height="20" fill="#ff0000"/>
<rect x="1043" y="200" width="1" height="9" fill="#ff0000"/>
<rect x="1042" y="201" width="3" height="3" fill="#ff0000"/>
<rect x="1047" y="200" width="1" height="23" fill="#00ff00"/>
<rect x="1046" y="201" width="3" height="21" fill="#00ff00"/>
<rect x="1051" y="219" width="1" height="32" fill="#00ff00"/>
<rect x="1050" y="221" width="3" height="14" fill="#00ff00"/>
<rect x="1055" y="231" width="1" height="26" fill="#00ff00"/>
<rect x="1054" y="234" width="3" height="17" fill="#00ff00"/>
<rect x="1059" y="249" width="1" height="24" fill="#00ff00"/>
<rect x="1058" y="250" width="3" height="7" fill="#00ff00"/>
<rect x="1063" y="203" width="1" height="55" fill="#ff0000"/>
<rect x="1062" y="203" width="3" height="54" fill="#ff0000"/>
<rect x="1067" y="203" width="1" height="13" fill="#00ff00"/>
<rect x="1066" y="204" width="3" height="8" fill="#00ff00"/>
<rect x="1071" y="191" width="1" height="26" fill="#00ff00"/>
<rect x="1070" y="198" width="3" height="10" fill="#00ff00"/>
<rect x="1075" y="206" width="1" height="25" fill="#00ff00"/>
<rect x="1074" y="207" width="3" height="18" fill="#00ff00"/>
<rect x="1079" y="189" width="1" height="39" fill="#ff0000"/>
<rect x="1078" y="193" width="3" height="32" fill="#ff0000"/>
<rect x="1083" y="185" width="1" height="57" fill="#00ff00"/>
<rect x="1082" y="193" width="3" height="47" fill="#00ff00"/>
<rect x="1087" y="231" width="1" height="27" fill="#00ff00"/>
<rect x="1086" y="240" width="3" height="17" fill="#00ff00"/>
<rect x="1091" y="249" width="1" height="9" fill="#ff0000"/>
<rect x="1090" y="251" width="3" height="6" fill="#ff0000"/>
<rect x="1095" y="225" width="1" height="36" fill="#ff0000"/>
<rect x="1094" y="226" width="3" height="24" fill="#ff0000"/>
<rect x="1099" y="215" width="1" height="25" fill="#00ff00"/>
<rect x="1098" y="226" width="3" height="3" fill="#00ff00"/>
<rect x="1103" y="206" width="1" height="26" fill="#ff0000"/>
<rect x="1102" y="207" width="3" height="22" fill="#ff0000"/>
<rect x="1107" y="194" width="1" height="21" fill="#00ff00"/>
<rect x="1106" y="207" width="3" height="2" fill="#00ff00"/>
<rect x="1111" y="204" width="1" height="24" fill="#ff0000"/>
<rect x="1110" y="207" width="3" height="2" fill="#ff0000"/>
<rect x="1115" y="200" width="1" height="9" fill="#ff0000"/>
<rect x="1114" y="203" width="3" height="4" fill="#ff0000"/>
<rect x="1119" y="206" width="1" height="37" fill="#00ff00"/>
<rect x="1118" y="207" width="3" height="35" fill="#00ff00"/>
<rect x="1123" y="238" width="1" height="29" fill="#00ff00"/>
<rect x="1122" y="241" width="3" height="25" fill="#00ff00"/>
<rect x="1127" y="243" width="1" height="27" fill="#ff0000"/>
<rect x="1126" y="257" width="3" height="9" fill="#ff0000"/>
<rect x="1131" y="241" width="1" height="24" fill="#ff0000"/>
<rect x="1130" y="246" width="3" height="11" fill="#ff0000"/>
<rect x="1135" y="219" width="1" height="32" fill="#ff0000"/>
<rect x="1134" y="226" width="3" height="20" fill="#ff0000"/>
<rect x="1139" y="225" width="1" height="12" fill="#00ff00"/>
<rect x="1138" y="226" width="3" height="9" fill="#00ff00"/>
<rect x="1143" y="230" width="1" height="12" fill="#00ff00"/>
<rect x="1142" y="235" width="3" height="6" fill="#00ff00"/>
<rect x="1147" y="236" width="1" height="56" fill="#00ff00"/>
<rect x="1146" y="240" width="3" height="42" fill="#00ff00"/>
<rect x="1151" y="281" width="1" height="27" fill="#00ff00"/>
<rect x="1150" y="281" width="3" height="10" fill="#00ff00"/>
<rect x="1155" y="288" width="1" height="18" fill="#00ff00"/>
<rect x="1154" y="290" width="3" height="8" fill="#00ff00"/>
<rect x="1159" y="280" width="1" height="31" fill="#ff0000"/>
<rect x="1158" y="284" width="3" height="14" fill="#ff0000"/>
<rect x="1163" y="279" width="1" height="15" fill="#00ff00"/>
<rect x="1162" y="284" width="3" height="10" fill="#00ff00"/>
<rect x="1167" y="291" width="1" height="52" fill="#00ff00"/>
<rect x="1166" y="292" width="3" height="49" fill="#00ff00"/>
<rect x="1171" y="338" width="1" height="36" fill="#00ff00"/>
<rect x="1170" y="340" width="3" height="25" fill="#00ff00"/>
<rect x="1175" y="349" width="1" height="26" fill="#00ff00"/>
<rect x="1174" y="364" width="3" height="9" fill="#00ff00"/>
<rect x="1179" y="358" width="1" height="21" fill="#ff0000"/>
<rect x="1178" y="364" width="3" height="9" fill="#ff0000"/>
<rect x="1183" y="363" width="1" height="37" fill="#00ff00"/>
<rect x="1182" y="364" width="3" height="27" fill="#00ff00"/>
<rect x="1187" y="383" width="1" height="10" fill="#ff0000"/>
<rect x="1186" y="387" width="3" height="4" fill="#ff0000"/>
<rect x="1191" y="386" width="1" height="19" fill="#00ff00"/>
<rect x="1190" y="393" width="3" height="9" fill="#00ff00"/>
<rect x="1195" y="372" width="1" height="37" fill="#ff0000"/>
<rect x="1194" y="387" width="3" height="15" fill="#ff0000"/>
<rect x="1199" y="386" width="1" height="19" fill="#00ff00"/>
<rect x="1198" y="387" width="3" height="13" fill="#00ff00"/>
<rect x="1203" y="347" width="1" height="73" fill="#ff0000"/>
<rect x="1202" y="353" width="3" height="47" fill="#ff0000"/>
<rect x="1207" y="323" width="1" height="31" fill="#ff0000"/>
<rect x="1206" y="345" width="3" height="9" fill="#ff0000"/>
<rect x="1211" y="329" width="1" height="18" fill="#ff0000"/>
<rect x="1210" y="337" width="3" height="8" fill="#ff0000"/>
<rect x="1215" y="318" width="1" height="26" fill="#00ff00"/>
<rect x="1214" y="334" width="3" height="4" fill="#00ff00"/>
<rect x="1219" y="335" width="1" height="33" fill="#00ff00"/>
<rect x="1218" y="337" width="3" height="16" fill="#00ff00"/>
<rect x="1223" y="349" width="1" height="19" fill="#ff0000"/>
<rect x="1222" y="350" width="3" height="3" fill="#ff0000"/>
<rect x="1227" y="339" width="1" height="24" fill="#ff0000"/>
<rect x="1226" y="344" width="3" height="7" fill="#ff0000"/>
<rect x="1231" y="337" width="1" height="20" fill="#ff0000"/>
<rect x="1230" y="342" width="3" height="2" fill="#ff0000"/>
<rect x="1235" y="337" width="1" height="5" fill="#ff0000"/>
<rect x="1234" y="341" width="3" height="1" fill="#ff0000"/>
<rect x="1239" y="334" width="1" height="24" fill="#00ff00"/>
<rect x="1238" y="336" width="3" height="21" fill="#00ff00"/>
<rect x="1243" y="350" width="1" height="24" fill="#00ff00"/>
<rect x="1242" y="356" width="3" height="11" fill="#00ff00"/>
<rect x="1247" y="341" width="1" height="26" fill="#ff0000"/>
<rect x="1246" y="341" width="3" height="26" fill="#ff0000"/>
<rect x="1251" y="322" width="1" height="24" fill="#ff0000"/>
<rect x="1250" y="325" width="3" height="21" fill="#ff0000"/>
<rect x="1255" y="310" width="1" height="25" fill="#ff0000"/>
<rect x="1254" y="315" width="3" height="11" fill="#ff0000"/>
<rect x="1259" y="313" width="1" height="16" fill="#00ff00"/>
<rect x="1258" y="315" width="3" height="12" fill="#00ff00"/>
<rect x="1263" y="313" width="1" height="17" fill="#ff0000"/>
<rect x="1262" y="317" width="3" height="4" fill="#ff0000"/>
<rect x="1267" y="316" width="1" height="12" fill="#00ff00"/>
<rect x="1266" y="318" width="3" height="6" fill="#00ff00"/>
</g>
<polyline points="3.5,410.6 7.5,413.9 11.5,417.4 15.5,420.7 19.5,424.3 23.5,428.3 27.5,432.4 31.5,436.0 35.5,439.7 39.5,443.1 43.5,445.9 47.5,448.5 51.5,451.0 55.5,453.5 59.5,455.8 63.5,457.9 67.5,459.8 71.5,462.1 75.5,464.1 79.5,466.8 83.5,469.9 87.5,472.5 91.5,474.8 95.5,476.8 99.5,478.1 103.5,478.6 107.5,478.8 111.5,479.0 115.5,478.8 119.5,478.7 123.5,478.1 127.5,476.9 131.5,475.8 135.5,475.1 139.5,473.9 143.5,471.5 147.5,469.7 151.5,468.6 155.5,467.5 159.5,466.2 163.5,465.3 167.5,463.3 171.5,461.0 175.5,458.8 179.5,456.6 183.5,454.3 187.5,451.7 191.5,449.6 195.5,447.6 199.5,445.2 203.5,443.1 207.5,441.6 211.5,440.5 215.5,439.0 219.5,437.7 223.5,436.8 227.5,435.4 231.5,433.9 235.5,432.4 239.5,431.5 243.5,431.2 247.5,431.7 251.5,432.0 255.5,432.5 259.5,433.5 263.5,434.7 267.5,435.0 271.5,434.6 275.5,434.0 279.5,433.8 283.5,433.5 287.5,433.8 291.5,434.4 295.5,434.5 299.5,434.4 303.5,434.6 307.5,435.3 311.5,435.2 315.5,435.6 319.5,436.2 323.5,436.7 327.5,437.1 331.5,437.3 335.5,437.1 339.5,436.9 343.5,436.5 347.5,436.5 351.5,436.6 355.5,436.6 359.5,435.8 363.5,435.5 367.5,435.4 371.5,435.3 375.5,434.5 379.5,434.0 383.5,434.1 387.5,434.8 391.5,436.1 395.5,437.6 399.5,439.0 403.5,440.5 407.5,442.2 411.5,444.0 415.5,445.9 419.5,447.9 423.5,449.7 427.5,451.3 431.5,452.2 435.5,453.4 439.5,454.3 443.5,455.2 447.5,456.1 451.5,456.7 455.5,458.0 459.5,459.4 463.5,460.4 467.5,461.3 471.5,462.2 475.5,463.1 479.5,463.8 483.5,464.0 487.5,463.6 491.5,463.1 495.5,463.3 499.5,463.0 503.5,462.0 507.5,460.7 511.5,459.3 515.5,457.7 519.5,455.8 523.5,453.9 527.5,452.2 531.5,450.2 535.5,448.2 539.5,446.2 543.5,444.1 547.5,442.2 551.5,441.7 555.5,441.3 559.5,440.2 563.5,439.3 567.5,438.5 571.5,437.9 575.5,437.5 579.5,437.4 583.5,437.5 587.5,437.9 591.5,438.6 595.5,439.3 599.5,440.5 603.5,441.6 607.5,442.1 611.5,442.7 615.5,443.0 619.5,443.7 623.5,444.8 627.5,446.3 631.5,448.1 635.5,450.2 639.5,452.5 643.5,455.5 647.5,458.2 651.5,461.0 655.5,463.7 659.5,466.3 663.5,469.3 667.5,471.8 671.5,473.5 675.5,474.3 679.5,476.3 683.5,478.1 687.5,479.6 691.5,481.2 695.5,482.7 699.5,484.0 703.5,485.3 707.5,486.4 711.5,487.1 715.5,488.0 719.5,487.9 723.5,487.7 727.5,488.0 731.5,488.3 735.5,488.2 739.5,488.0 743.5,487.6 747.5,486.6 751.5,485.4 755.5,483.9 759.5,482.0 763.5,479.1 767.5,476.3 771.5,473.4 775.5,470.5 779.5,467.7 783.5,464.5 787.5,462.0 791.5,460.0 795.5,458.6 799.5,456.6 803.5,454.9 807.5,453.2 811.5,451.5 815.5,449.8 819.5,448.2 823.5,446.7 827.5,445.4 831.5,443.5 835.5,441.4 839.5,439.8 843.5,437.9 847.5,435.3 851.5,432.9 855.5,431.0 859.5,429.6 863.5,427.9 867.5,426.3 871.5,424.4 875.5,422.7 879.5,420.4 883.5,415.8 887.5,411.7 891.5,406.5 895.5,400.3 899.5,394.5 903.5,388.6 907.5,380.4 911.5,368.8 915.5,357.8 919.5,347.7 923.5,336.9 927.5,325.1 931.5,313.9 935.5,303.9 939.5,296.5 943.5,288.7 947.5,282.0 951.5,273.8 955.5,266.2 959.5,257.8 963.5,250.9 967.5,244.4 971.5,237.5 975.5,230.8 979.5,225.0 983.5,219.4 987.5,214.1 991.5,209.2 995.5,204.4 999.5,200.4 1003.5,199.3 1007.5,196.1 1011.5,193.6 1015.5,193.1 1019.5,192.3 1023.5,191.4 1027.5,191.3 1031.5,195.2 1035.5,199.1 1039.5,201.5 1043.5,204.4 1047.5,208.9 1051.5,213.4 1055.5,217.0 1059.5,218.2 1063.5,217.9 1067.5,216.7 1071.5,217.5 1075.5,218.3 1079.5,219.0 1083.5,220.3 1087.5,222.4 1091.5,224.5 1095.5,225.4 1099.5,225.0 1103.5,224.3 1107.5,223.4 1111.5,222.2 1115.5,220.8 1119.5,220.7 1123.5,220.9 1127.5,222.7 1131.5,224.4 1135.5,224.6 1139.5,224.8 1143.5,225.8 1147.5,229.2 1151.5,232.2 1155.5,234.7 1159.5,237.4 1163.5,240.5 1167.5,244.4 1171.5,248.7 1175.5,252.8 1179.5,256.4 1183.5,262.6 1187.5,268.4 1191.5,274.9 1195.5,280.3 1199.5,287.2 1203.5,291.0 1207.5,293.9 1211.5,296.8 1215.5,300.5 1219.5,304.6 1223.5,309.4 1227.5,313.8 1231.5,318.3 1235.5,322.9 1239.5,326.7 1243.5,330.1 1247.5,332.9 1251.5,335.6 1255.5,338.5 1259.5,341.6 1263.5,344.1 1267.5,345.6" fill="none" stroke="#0000cd" stroke-width="1" shape-rendering="crispEdges"/>
<polyline points="3.5,431.6 7.5,435.4 11.5,440.0 15.5,444.5 19.5,449.9 23.5,456.5 27.5,463.2 31.5,467.9 35.5,471.8 39.5,474.8 43.5,476.3 47.5,477.6 51.5,479.1 55.5,480.9 59.5,483.1 63.5,484.1 67.5,484.8 71.5,486.5 75.5,487.1 79.5,487.2 83.5,487.0 87.5,486.8 91.5,485.8 95.5,484.9 99.5,484.5 103.5,482.8 107.5,480.9 111.5,478.7 115.5,475.9 119.5,473.9 123.5,470.7 127.5,467.2 131.5,464.9 135.5,462.3 139.5,458.5 143.5,454.3 147.5,452.1 151.5,450.3 155.5,449.1 159.5,448.2 163.5,447.3 167.5,443.9 171.5,441.0 175.5,438.3 179.5,437.1 183.5,435.7 187.5,433.3 191.5,431.7 195.5,430.8 199.5,431.0 203.5,430.1 207.5,428.9 211.5,428.0 215.5,426.8 219.5,425.4 223.5,426.0 227.5,426.1 231.5,425.3 235.5,424.0 239.5,424.9 243.5,426.8 247.5,428.9 251.5,431.4 255.5,434.9 259.5,437.9 263.5,439.5 267.5,440.4 271.5,440.9 275.5,441.1 279.5,441.8 283.5,443.2 287.5,443.9 291.5,445.2 295.5,444.8 299.5,444.0 303.5,441.9 307.5,440.4 311.5,437.6 315.5,435.1 319.5,434.2 323.5,433.6 327.5,434.1 331.5,435.2 335.5,434.0 339.5,432.6 343.5,431.6 347.5,430.5 351.5,429.7 355.5,428.6 359.5,427.6 363.5,427.2 367.5,429.2 371.5,430.9 375.5,431.2 379.5,432.1 383.5,433.2 387.5,435.1 391.5,438.6 395.5,442.6 399.5,447.1 403.5,451.8 407.5,456.0 411.5,461.1 415.5,466.3 419.5,470.5 423.5,472.7 427.5,474.7 431.5,475.6 435.5,476.7 439.5,477.5 443.5,477.3 447.5,477.0 451.5,476.3 455.5,474.8 459.5,473.0 463.5,470.6 467.5,467.5 471.5,464.6 475.5,461.2 479.5,457.7 483.5,454.3 487.5,453.5 491.5,451.8 495.5,450.5 499.5,448.9 503.5,445.9 507.5,443.7 511.5,441.5 515.5,439.1 519.5,437.1 523.5,435.9 527.5,434.6 531.5,433.5 535.5,432.9 539.5,432.4 543.5,430.9 547.5,429.8 551.5,429.3 555.5,430.2 559.5,430.8 563.5,431.2 567.5,432.5 571.5,433.7 575.5,435.6 579.5,437.6 583.5,439.2 587.5,441.2 591.5,443.9 595.5,446.3 599.5,449.9 603.5,453.1 607.5,454.4 611.5,454.6 615.5,456.4 619.5,458.3 623.5,459.5 627.5,461.8 631.5,464.3 635.5,466.6 639.5,469.4 643.5,473.6 647.5,476.6 651.5,480.0 655.5,482.6 659.5,485.3 663.5,489.1 667.5,492.1 671.5,494.7 675.5,495.9 679.5,498.2 683.5,499.3 687.5,500.0 691.5,500.1 695.5,500.2 699.5,498.7 703.5,497.3 707.5,495.6 711.5,494.2 715.5,492.7 719.5,489.9 723.5,487.3 727.5,485.4 731.5,484.6 735.5,482.0 739.5,479.7 743.5,476.6 747.5,473.5 751.5,470.0 755.5,466.3 759.5,462.3 763.5,458.1 767.5,453.4 771.5,448.8 775.5,445.2 779.5,442.3 783.5,438.7 787.5,435.8 791.5,434.2 795.5,432.8 799.5,431.7 803.5,431.3 807.5,431.1 811.5,430.7 815.5,431.4 819.5,432.4 823.5,433.8 827.5,435.6 831.5,436.4 835.5,436.5 839.5,436.9 843.5,435.6 847.5,432.5 851.5,429.6 855.5,427.1 859.5,425.4 863.5,422.3 867.5,419.3 871.5,415.6 875.5,411.8 879.5,405.9 883.5,394.8 887.5,385.4 891.5,374.0 895.5,360.5 899.5,349.5 903.5,338.7 907.5,323.3 911.5,300.9 915.5,278.8 919.5,260.0 923.5,239.9 927.5,218.2 931.5,197.6 935.5,181.8 939.5,176.7 943.5,170.2 947.5,168.9 951.5,165.4 955.5,161.6 959.5,156.7 963.5,158.2 967.5,165.9 971.5,171.9 975.5,176.5 979.5,185.6 983.5,195.7 987.5,205.4 991.5,212.6 995.5,214.3 999.5,216.7 1003.5,217.6 1007.5,218.8 1011.5,218.3 1015.5,221.8 1019.5,223.8 1023.5,225.1 1027.5,224.3 1031.5,224.7 1035.5,223.4 1039.5,221.7 1043.5,219.0 1047.5,217.6 1051.5,216.9 1055.5,217.3 1059.5,217.1 1063.5,217.1 1067.5,218.5 1071.5,217.6 1075.5,217.4 1079.5,215.9 1083.5,220.3 1087.5,224.3 1091.5,226.2 1095.5,227.8 1099.5,229.8 1103.5,228.8 1107.5,226.9 1111.5,223.8 1115.5,219.9 1119.5,222.7 1123.5,226.6 1127.5,230.0 1131.5,231.4 1135.5,233.8 1139.5,233.4 1143.5,232.3 1147.5,234.5 1151.5,239.2 1155.5,244.1 1159.5,249.6 1163.5,255.6 1167.5,265.2 1171.5,276.7 1175.5,286.0 1179.5,293.1 1183.5,302.7 1187.5,312.8 1191.5,325.4 1195.5,336.2 1199.5,347.6 1203.5,352.6 1207.5,356.5 1211.5,359.2 1215.5,363.1 1219.5,367.3 1223.5,367.9 1227.5,366.4 1231.5,364.2 1235.5,362.5 1239.5,360.0 1243.5,358.6 1247.5,354.3 1251.5,349.8 1255.5,343.8 1259.5,342.0 1263.5,340.0 1267.5,339.1" fill="none" stroke="#ff0000" stroke-width="1" shape-rendering="crispEdges"/>
<polyline points="3.5,463.0 7.5,468.9 11.5,473.9 15.5,475.0 19.5,475.9 23.5,479.5 27.5,481.9 31.5,480.4 35.5,482.7 39.5,484.2 43.5,481.4 47.5,478.3 51.5,480.4 55.5,482.9 59.5,486.3 63.5,490.8 67.5,494.0 71.5,495.7 75.5,493.0 79.5,491.1 83.5,489.9 87.5,486.0 91.5,480.6 95.5,478.2 99.5,473.7 103.5,466.7 107.5,463.8 111.5,463.1 115.5,460.9 119.5,461.1 123.5,460.1 127.5,457.4 131.5,454.3 135.5,453.1 139.5,446.8 143.5,440.1 147.5,438.5 151.5,437.5 155.5,436.7 159.5,438.0 163.5,444.1 167.5,440.1 171.5,434.6 175.5,430.8 179.5,429.0 183.5,425.1 187.5,424.5 191.5,427.3 195.5,425.8 199.5,422.9 203.5,422.8 207.5,425.4 211.5,426.2 215.5,426.9 219.5,428.3 223.5,428.6 227.5,426.7 231.5,423.3 235.5,421.2 239.5,423.9 243.5,426.7 247.5,435.0 251.5,443.0 255.5,453.5 259.5,459.1 263.5,461.1 267.5,458.6 271.5,453.4 275.5,445.5 279.5,439.5 283.5,436.8 287.5,432.9 291.5,433.4 295.5,434.3 299.5,432.8 303.5,431.6 307.5,433.2 311.5,432.2 315.5,432.1 319.5,433.6 323.5,435.4 327.5,436.0 331.5,438.7 335.5,436.4 339.5,432.2 343.5,427.3 347.5,423.1 351.5,418.8 355.5,417.6 359.5,417.6 363.5,420.8 367.5,428.6 371.5,435.4 375.5,441.1 379.5,448.2 383.5,452.7 387.5,455.2 391.5,458.1 395.5,464.1 399.5,469.3 403.5,475.1 407.5,477.4 411.5,480.7 415.5,483.9 419.5,486.2 423.5,487.2 427.5,487.8 431.5,481.7 435.5,477.3 439.5,472.5 443.5,468.1 447.5,464.5 451.5,465.8 455.5,463.9 459.5,462.4 463.5,458.7 467.5,454.1 471.5,451.3 475.5,448.2 479.5,444.4 483.5,442.1 487.5,442.5 491.5,441.4 495.5,442.5 499.5,443.3 503.5,441.1 507.5,438.1 511.5,435.1 515.5,430.5 519.5,425.9 523.5,426.1 527.5,425.8 531.5,425.8 535.5,426.9 539.5,428.8 543.5,428.5 547.5,428.0 551.5,430.8 555.5,435.9 559.5,436.6 563.5,439.1 567.5,442.6 571.5,442.8 575.5,440.9 579.5,445.2 583.5,448.2 587.5,450.4 591.5,455.6 595.5,458.9 599.5,463.0 603.5,466.7 607.5,467.6 611.5,465.9 615.5,464.9 619.5,462.5 623.5,460.6 627.5,463.4 631.5,467.9 635.5,473.7 639.5,479.2 643.5,490.0 647.5,497.0 651.5,503.1 655.5,507.7 659.5,511.3 663.5,511.0 667.5,509.5 671.5,506.0 675.5,499.8 679.5,496.6 683.5,491.8 687.5,489.9 691.5,488.6 695.5,491.4 699.5,491.6 703.5,491.4 707.5,490.7 711.5,491.3 715.5,490.3 719.5,486.3 723.5,481.6 727.5,477.6 731.5,472.8 735.5,466.6 739.5,463.2 743.5,460.0 747.5,455.2 751.5,450.6 755.5,447.6 759.5,442.9 763.5,438.8 767.5,435.0 771.5,431.0 775.5,427.1 779.5,425.5 783.5,423.3 787.5,423.6 791.5,425.6 795.5,428.4 799.5,430.4 803.5,434.3 807.5,437.3 811.5,438.0 815.5,438.9 819.5,440.8 823.5,442.2 827.5,443.7 831.5,442.9 835.5,439.9 839.5,435.9 843.5,428.5 847.5,416.8 851.5,409.3 855.5,404.0 859.5,402.2 863.5,400.0 867.5,401.2 871.5,399.8 875.5,397.8 879.5,387.5 883.5,366.7 887.5,347.8 891.5,323.5 895.5,292.5 899.5,270.5 903.5,259.9 907.5,235.4 911.5,199.3 915.5,173.4 919.5,149.4 923.5,124.4 927.5,105.6 931.5,108.7 935.5,115.9 939.5,133.5 943.5,152.8 947.5,185.5 951.5,202.1 955.5,213.8 959.5,204.0 963.5,201.8 967.5,191.1 971.5,191.7 975.5,191.2 979.5,205.1 983.5,210.6 987.5,219.3 991.5,229.9 995.5,239.3 999.5,240.1 1003.5,246.5 1007.5,239.5 1011.5,229.7 1015.5,225.1 1019.5,221.5 1023.5,212.2 1027.5,207.1 1031.5,209.0 1035.5,209.5 1039.5,204.8 1043.5,202.2 1047.5,211.0 1051.5,217.6 1055.5,223.0 1059.5,233.7 1063.5,234.2 1067.5,232.3 1071.5,226.8 1075.5,221.8 1079.5,208.9 1083.5,216.2 1087.5,225.2 1091.5,233.7 1095.5,233.8 1099.5,241.1 1103.5,234.7 1107.5,225.1 1111.5,216.4 1115.5,211.8 1119.5,214.3 1123.5,226.0 1127.5,235.5 1131.5,243.1 1135.5,247.7 1139.5,246.2 1143.5,241.3 1147.5,246.4 1151.5,255.5 1155.5,269.9 1159.5,279.9 1163.5,290.4 1167.5,302.1 1171.5,316.9 1175.5,331.8 1179.5,347.7 1183.5,367.3 1187.5,376.5 1191.5,383.9 1195.5,386.8 1199.5,393.9 1203.5,386.2 1207.5,377.8 1211.5,364.8 1215.5,355.0 1219.5,345.6 1223.5,345.0 1227.5,344.8 1231.5,345.7 1235.5,346.2 1239.5,347.0 1243.5,350.4 1247.5,350.0 1251.5,346.6 1255.5,341.5 1259.5,335.6 1263.5,325.6 1267.5,322.2" fill="none" stroke="#ffa500" stroke-width="1" shape-rendering="crispEdges"/>
</g>
<g shape-rendering="crispEdges">
<rect x="3" y="202" width="1593" height="2" fill="#ff0000"/>
<rect x="2" y="200" width="6" height="6" fill="#ff0000"/><rect x="4" y="202" width="2" height="2" fill="#fff"/>
<rect x="1589" y="200" width="6" height="6" fill="#ff0000"/><rect x="1591" y="202" width="2" height="2" fill="#fff"/>
<rect x="3" y="273" width="1593" height="2" fill="#ff0000"/>
<rect x="2" y="271" width="6" height="6" fill="#ff0000"/><rect x="4" y="273" width="2" height="2" fill="#fff"/>
<rect x="1589" y="271" width="6" height="6" fill="#ff0000"/><rect x="1591" y="273" width="2" height="2" fill="#fff"/>
<rect x="3" y="340" width="1593" height="2" fill="#00ff00"/>
<rect x="2" y="338" width="6" height="6" fill="#00ff00"/><rect x="4" y="340" width="2" height="2" fill="#fff"/>
<rect x="1589" y="338" width="6" height="6" fill="#00ff00"/><rect x="1591" y="340" width="2" height="2" fill="#fff"/>
<rect x="3" y="422" width="1593" height="2" fill="#0000ff"/>
<rect x="2" y="420" width="6" height="6" fill="#0000ff"/><rect x="4" y="422" width="2" height="2" fill="#fff"/>
<rect x="1589" y="420" width="6" height="6" fill="#0000ff"/><rect x="1591" y="422" width="2" height="2" fill="#fff"/>
<rect x="3" y="504" width="1593" height="2" fill="#0000ff"/>
<rect x="2" y="502" width="6" height="6" fill="#0000ff"/><rect x="4" y="504" width="2" height="2" fill="#fff"/>
<rect x="1589" y="502" width="6" height="6" fill="#0000ff"/><rect x="1591" y="504" width="2" height="2" fill="#fff"/>
</g>
<g shape-rendering="crispEdges">
<rect x="1596" y="33" width="2" height="1" fill="#000"/>
<rect x="1596" y="66" width="2" height="1" fill="#000"/>
<rect x="1596" y="99" width="2" height="1" fill="#000"/>
<rect x="1596" y="132" width="2" height="1" fill="#000"/>
<rect x="1596" y="165" width="2" height="1" fill="#000"/>
<rect x="1596" y="198" width="2" height="1" fill="#000"/>
<rect x="1596" y="231" width="2" height="1" fill="#000"/>
<rect x="1596" y="264" width="2" height="1" fill="#000"/>
<rect x="1596" y="297" width="2" height="1" fill="#000"/>
<rect x="1596" y="330" width="2" height="1" fill="#000"/>
<rect x="1596" y="363" width="2" height="1" fill="#000"/>
<rect x="1596" y="396" width="2" height="1" fill="#000"/>
<rect x="1596" y="429" width="2" height="1" fill="#000"/>
<rect x="1596" y="462" width="2" height="1" fill="#000"/>
<rect x="1596" y="495" width="2" height="1" fill="#000"/>
<rect x="1596" y="528" width="2" height="1" fill="#000"/>
</g>
<text x="1601.3" y="37" font-size="10.0" fill="#000" stroke="#000" stroke-width="0.2" text-anchor="start" textLength="32.3" lengthAdjust="spacingAndGlyphs" xml:space="preserve">1.47305</text>
<text x="1601.3" y="70" font-size="10.0" fill="#000" stroke="#000" stroke-width="0.2" text-anchor="start" textLength="32.3" lengthAdjust="spacingAndGlyphs" xml:space="preserve">1.46080</text>
<text x="1601.3" y="103" font-size="10.0" fill="#000" stroke="#000" stroke-width="0.2" text-anchor="start" textLength="32.3" lengthAdjust="spacingAndGlyphs" xml:space="preserve">1.44890</text>
<text x="1601.3" y="136" font-size="10.0" fill="#000" stroke="#000" stroke-width="0.2" text-anchor="start" textLength="32.3" lengthAdjust="spacingAndGlyphs" xml:space="preserve">1.43665</text>
<text x="1601.3" y="169" font-size="10.0" fill="#000" stroke="#000" stroke-width="0.2" text-anchor="start" textLength="32.3" lengthAdjust="spacingAndGlyphs" xml:space="preserve">1.42440</text>
<text x="1601.3" y="202" font-size="10.0" fill="#000" stroke="#000" stroke-width="0.2" text-anchor="start" textLength="32.3" lengthAdjust="spacingAndGlyphs" xml:space="preserve">1.41250</text>
<text x="1601.3" y="235" font-size="10.0" fill="#000" stroke="#000" stroke-width="0.2" text-anchor="start" textLength="32.3" lengthAdjust="spacingAndGlyphs" xml:space="preserve">1.40025</text>
<text x="1601.3" y="268" font-size="10.0" fill="#000" stroke="#000" stroke-width="0.2" text-anchor="start" textLength="32.3" lengthAdjust="spacingAndGlyphs" xml:space="preserve">1.38835</text>
<text x="1601.3" y="301" font-size="10.0" fill="#000" stroke="#000" stroke-width="0.2" text-anchor="start" textLength="32.3" lengthAdjust="spacingAndGlyphs" xml:space="preserve">1.37610</text>
<text x="1601.3" y="334" font-size="10.0" fill="#000" stroke="#000" stroke-width="0.2" text-anchor="start" textLength="32.3" lengthAdjust="spacingAndGlyphs" xml:space="preserve">1.36420</text>
<text x="1601.3" y="367" font-size="10.0" fill="#000" stroke="#000" stroke-width="0.2" text-anchor="start" textLength="32.3" lengthAdjust="spacingAndGlyphs" xml:space="preserve">1.35195</text>
<text x="1601.3" y="400" font-size="10.0" fill="#000" stroke="#000" stroke-width="0.2" text-anchor="start" textLength="32.3" lengthAdjust="spacingAndGlyphs" xml:space="preserve">1.34005</text>
<text x="1601.3" y="433" font-size="10.0" fill="#000" stroke="#000" stroke-width="0.2" text-anchor="start" textLength="32.3" lengthAdjust="spacingAndGlyphs" xml:space="preserve">1.32780</text>
<text x="1601.3" y="466" font-size="10.0" fill="#000" stroke="#000" stroke-width="0.2" text-anchor="start" textLength="32.3" lengthAdjust="spacingAndGlyphs" xml:space="preserve">1.31590</text>
<text x="1601.3" y="499" font-size="10.0" fill="#000" stroke="#000" stroke-width="0.2" text-anchor="start" textLength="32.3" lengthAdjust="spacingAndGlyphs" xml:space="preserve">1.30365</text>
<text x="1601.3" y="532" font-size="10.0" fill="#000" stroke="#000" stroke-width="0.2" text-anchor="start" textLength="32.3" lengthAdjust="spacingAndGlyphs" xml:space="preserve">1.29175</text>
<rect x="1597" y="197" width="41" height="11" fill="#ff0000" shape-rendering="crispEdges"/>
<text x="1601.5" y="206" font-size="10.0" fill="#fff" stroke="#fff" stroke-width="0.2" text-anchor="start" textLength="32.2" lengthAdjust="spacingAndGlyphs" xml:space="preserve">1.41060</text>
<rect x="1597" y="268" width="41" height="11" fill="#ff0000" shape-rendering="crispEdges"/>
<text x="1601.5" y="277" font-size="10.0" fill="#fff" stroke="#fff" stroke-width="0.2" text-anchor="start" textLength="32.2" lengthAdjust="spacingAndGlyphs" xml:space="preserve">1.38464</text>
<rect x="1597" y="319" width="41" height="11" fill="#000000" shape-rendering="crispEdges"/>
<text x="1601.5" y="328" font-size="10.0" fill="#fff" stroke="#fff" stroke-width="0.2" text-anchor="start" textLength="32.2" lengthAdjust="spacingAndGlyphs" xml:space="preserve">1.36625</text>
<rect x="1597" y="335" width="41" height="11" fill="#00ff00" shape-rendering="crispEdges"/>
<text x="1601.5" y="344" font-size="10.0" fill="#fff" stroke="#fff" stroke-width="0.2" text-anchor="start" textLength="32.2" lengthAdjust="spacingAndGlyphs" xml:space="preserve">1.36015</text>
<rect x="1597" y="417" width="41" height="11" fill="#0000ff" shape-rendering="crispEdges"/>
<text x="1601.5" y="426" font-size="10.0" fill="#fff" stroke="#fff" stroke-width="0.2" text-anchor="start" textLength="32.2" lengthAdjust="spacingAndGlyphs" xml:space="preserve">1.33011</text>
<rect x="1597" y="499" width="41" height="11" fill="#0000ff" shape-rendering="crispEdges"/>
<text x="1601.5" y="508" font-size="10.0" fill="#fff" stroke="#fff" stroke-width="0.2" text-anchor="start" textLength="32.2" lengthAdjust="spacingAndGlyphs" xml:space="preserve">1.30020</text>
<g shape-rendering="crispEdges">
<rect x="1596" y="535" width="1" height="1" fill="#000"/>
<rect x="1596" y="561" width="1" height="1" fill="#000"/>
<rect x="1596" y="597" width="1" height="1" fill="#000"/>
<rect x="1596" y="624" width="1" height="1" fill="#000"/>
<rect x="1596" y="629" width="1" height="1" fill="#000"/>
<rect x="1596" y="687" width="1" height="1" fill="#000"/>
<rect x="1596" y="718" width="1" height="1" fill="#000"/>
</g>
<text x="1599" y="544" font-size="10.0" fill="#000" stroke="#000" stroke-width="0.2" text-anchor="start" textLength="15" lengthAdjust="spacingAndGlyphs" xml:space="preserve">100</text>
<text x="1599" y="565" font-size="10.0" fill="#000" stroke="#000" stroke-width="0.2" text-anchor="start" textLength="10" lengthAdjust="spacingAndGlyphs" xml:space="preserve">70</text>
<text x="1599" y="601" font-size="10.0" fill="#000" stroke="#000" stroke-width="0.2" text-anchor="start" textLength="10" lengthAdjust="spacingAndGlyphs" xml:space="preserve">30</text>
<text x="1599" y="622" font-size="10.0" fill="#000" stroke="#000" stroke-width="0.2" text-anchor="start" textLength="5" lengthAdjust="spacingAndGlyphs" xml:space="preserve">0</text>
<text x="1599" y="638" font-size="10.0" fill="#000" stroke="#000" stroke-width="0.2" text-anchor="start" textLength="37" lengthAdjust="spacingAndGlyphs" xml:space="preserve">0.032972</text>
<text x="1599" y="691" font-size="10.0" fill="#000" stroke="#000" stroke-width="0.2" text-anchor="start" textLength="18" lengthAdjust="spacingAndGlyphs" xml:space="preserve">0.00</text>
<text x="1599" y="716" font-size="10.0" fill="#000" stroke="#000" stroke-width="0.2" text-anchor="start" textLength="40.5" lengthAdjust="spacingAndGlyphs" xml:space="preserve">-0.018154</text>
<text x="18" y="37" font-size="10.3" fill="#000" stroke="#000" stroke-width="0.2" text-anchor="start" textLength="65.5" lengthAdjust="spacingAndGlyphs" xml:space="preserve">USDCAD,Daily</text>
<text x="90.3" y="37" font-size="10.0" fill="#000" stroke="#000" stroke-width="0.2" text-anchor="start" textLength="140.7" lengthAdjust="spacingAndGlyphs" xml:space="preserve">1.36866 1.36935 1.36515 1.36625</text>
<path d="M6 32h7l-3.5 4z" fill="#000"/>
<text x="7" y="546" font-size="10.3" fill="#000" stroke="#000" stroke-width="0.2" text-anchor="start" textLength="68" lengthAdjust="spacingAndGlyphs" xml:space="preserve">RSI(14) 51.7157</text>
<text x="7" y="640" font-size="10.3" fill="#000" stroke="#000" stroke-width="0.2" text-anchor="start" textLength="154" lengthAdjust="spacingAndGlyphs" xml:space="preserve">MACD(12,26,9) -0.001199 -0.004097</text>
<g shape-rendering="crispEdges">
<rect x="3" y="720" width="1" height="3" fill="#000"/>
<rect x="67" y="720" width="1" height="3" fill="#000"/>
<rect x="131" y="720" width="1" height="3" fill="#000"/>
<rect x="195" y="720" width="1" height="3" fill="#000"/>
<rect x="259" y="720" width="1" height="3" fill="#000"/>
<rect x="323" y="720" width="1" height="3" fill="#000"/>
<rect x="387" y="720" width="1" height="3" fill="#000"/>
<rect x="451" y="720" width="1" height="3" fill="#000"/>
<rect x="515" y="720" width="1" height="3" fill="#000"/>
<rect x="579" y="720" width="1" height="3" fill="#000"/>
<rect x="643" y="720" width="1" height="3" fill="#000"/>
<rect x="707" y="720" width="1" height="3" fill="#000"/>
<rect x="771" y="720" width="1" height="3" fill="#000"/>
<rect x="835" y="720" width="1" height="3" fill="#000"/>
<rect x="899" y="720" width="1" height="3" fill="#000"/>
<rect x="963" y="720" width="1" height="3" fill="#000"/>
<rect x="1027" y="720" width="1" height="3" fill="#000"/>
<rect x="1091" y="720" width="1" height="3" fill="#000"/>
<rect x="1155" y="720" width="1" height="3" fill="#000"/>
<rect x="1219" y="720" width="1" height="3" fill="#000"/>
</g>
<text x="2" y="732" font-size="10.0" fill="#000" stroke="#000" stroke-width="0.2" text-anchor="start" textLength="49.5" lengthAdjust="spacingAndGlyphs" xml:space="preserve">27 Jun 2019</text>
<text x="66" y="732" font-size="10.0" fill="#000" stroke="#000" stroke-width="0.2" text-anchor="start" textLength="46.7" lengthAdjust="spacingAndGlyphs" xml:space="preserve">16 Jul 2019</text>
<text x="130" y="732" font-size="10.0" fill="#000" stroke="#000" stroke-width="0.2" text-anchor="start" textLength="47" lengthAdjust="spacingAndGlyphs" xml:space="preserve">3 Aug 2019</text>
<text x="194" y="732" font-size="10.0" fill="#000" stroke="#000" stroke-width="0.2" text-anchor="start" textLength="51.8" lengthAdjust="spacingAndGlyphs" xml:space="preserve">22 Aug 2019</text>
<text x="258" y="732" font-size="10.0" fill="#000" stroke="#000" stroke-width="0.2" text-anchor="start" textLength="50.8" lengthAdjust="spacingAndGlyphs" xml:space="preserve">10 Sep 2019</text>
<text x="322" y="732" font-size="10.0" fill="#000" stroke="#000" stroke-width="0.2" text-anchor="start" textLength="50.5" lengthAdjust="spacingAndGlyphs" xml:space="preserve">28 Sep 2019</text>
<text x="386" y="732" font-size="10.0" fill="#000" stroke="#000" stroke-width="0.2" text-anchor="start" textLength="50" lengthAdjust="spacingAndGlyphs" xml:space="preserve">17 Oct 2019</text>
<text x="450" y="732" font-size="10.0" fill="#000" stroke="#000" stroke-width="0.2" text-anchor="start" textLength="48.7" lengthAdjust="spacingAndGlyphs" xml:space="preserve">5 Nov 2019</text>
<text x="514" y="732" font-size="10.0" fill="#000" stroke="#000" stroke-width="0.2" text-anchor="start" textLength="53.8" lengthAdjust="spacingAndGlyphs" xml:space="preserve">23 Nov 2019</text>
<text x="578" y="732" font-size="10.0" fill="#000" stroke="#000" stroke-width="0.2" text-anchor="start" textLength="51.3" lengthAdjust="spacingAndGlyphs" xml:space="preserve">12 Dec 2019</text>
<text x="642" y="732" font-size="10.0" fill="#000" stroke="#000" stroke-width="0.2" text-anchor="start" textLength="51.3" lengthAdjust="spacingAndGlyphs" xml:space="preserve">31 Dec 2019</text>
<text x="706" y="732" font-size="10.0" fill="#000" stroke="#000" stroke-width="0.2" text-anchor="start" textLength="49" lengthAdjust="spacingAndGlyphs" xml:space="preserve">18 Jan 2020</text>
<text x="770" y="732" font-size="10.0" fill="#000" stroke="#000" stroke-width="0.2" text-anchor="start" textLength="46.2" lengthAdjust="spacingAndGlyphs" xml:space="preserve">6 Feb 2020</text>
<text x="834" y="732" font-size="10.0" fill="#000" stroke="#000" stroke-width="0.2" text-anchor="start" textLength="51.3" lengthAdjust="spacingAndGlyphs" xml:space="preserve">25 Feb 2020</text>
<text x="898" y="732" font-size="10.0" fill="#000" stroke="#000" stroke-width="0.2" text-anchor="start" textLength="51.3" lengthAdjust="spacingAndGlyphs" xml:space="preserve">14 Mar 2020</text>
<text x="962" y="732" font-size="10.0" fill="#000" stroke="#000" stroke-width="0.2" text-anchor="start" textLength="44.9" lengthAdjust="spacingAndGlyphs" xml:space="preserve">2 Apr 2020</text>
<text x="1026" y="732" font-size="10.0" fill="#000" stroke="#000" stroke-width="0.2" text-anchor="start" textLength="50.5" lengthAdjust="spacingAndGlyphs" xml:space="preserve">21 Apr 2020</text>
<text x="1090" y="732" font-size="10.0" fill="#000" stroke="#000" stroke-width="0.2" text-anchor="start" textLength="49.2" lengthAdjust="spacingAndGlyphs" xml:space="preserve">9 May 2020</text>
<text x="1154" y="732" font-size="10.0" fill="#000" stroke="#000" stroke-width="0.2" text-anchor="start" textLength="54.4" lengthAdjust="spacingAndGlyphs" xml:space="preserve">28 May 2020</text>
<text x="1218" y="732" font-size="10.0" fill="#000" stroke="#000" stroke-width="0.2" text-anchor="start" textLength="48.7" lengthAdjust="spacingAndGlyphs" xml:space="preserve">16 Jun 2020</text>
<text x="42" y="13" font-size="9.6" fill="#4a4a4a" stroke="#4a4a4a" stroke-width="0" text-anchor="start" textLength="13" lengthAdjust="spacingAndGlyphs" xml:space="preserve">M1</text>
<text x="70" y="13" font-size="9.6" fill="#4a4a4a" stroke="#4a4a4a" stroke-width="0" text-anchor="start" textLength="13" lengthAdjust="spacingAndGlyphs" xml:space="preserve">M5</text>
<text x="96" y="13" font-size="9.6" fill="#4a4a4a" stroke="#4a4a4a" stroke-width="0" text-anchor="start" textLength="18" lengthAdjust="spacingAndGlyphs" xml:space="preserve">M15</text>
<text x="124" y="13" font-size="9.6" fill="#4a4a4a" stroke="#4a4a4a" stroke-width="0" text-anchor="start" textLength="18" lengthAdjust="spacingAndGlyphs" xml:space="preserve">M30</text>
<text x="155.5" y="13" font-size="9.6" fill="#4a4a4a" stroke="#4a4a4a" stroke-width="0" text-anchor="start" textLength="11.5" lengthAdjust="spacingAndGlyphs" xml:space="preserve">H1</text>
<text x="182.5" y="13" font-size="9.6" fill="#4a4a4a" stroke="#4a4a4a" stroke-width="0" text-anchor="start" textLength="12.5" lengthAdjust="spacingAndGlyphs" xml:space="preserve">H4</text>
<text x="211.5" y="13" font-size="9.6" fill="#4a4a4a" stroke="#4a4a4a" stroke-width="0" text-anchor="start" textLength="11.5" lengthAdjust="spacingAndGlyphs" xml:space="preserve">D1</text>
<text x="239" y="13" font-size="9.6" fill="#4a4a4a" stroke="#4a4a4a" stroke-width="0" text-anchor="start" textLength="14" lengthAdjust="spacingAndGlyphs" xml:space="preserve">W1</text>
<text x="265.5" y="13" font-size="9.6" fill="#4a4a4a" stroke="#4a4a4a" stroke-width="0" text-anchor="start" textLength="15" lengthAdjust="spacingAndGlyphs" xml:space="preserve">MN</text>
<path d="M0 5L4 8L0 11.5" stroke="#555" stroke-width="1.5" fill="none"/><path d="M2 12.5L5.5 10.5L9 12.5L5.5 16z" fill="#555"/><path d="M16 8h5.5l-2.75 3.2z" fill="#000"/>
<g shape-rendering="crispEdges">
<rect x="0" y="740" width="1639" height="1" fill="#e8e8e8"/>
<rect x="0" y="742" width="1639" height="1" fill="#000"/>
<rect x="0" y="744" width="1639" height="18" fill="#f0f0f0"/>
<rect x="0" y="763" width="1639" height="1" fill="#f8f8f8"/>
<rect x="0" y="764" width="1639" height="2" fill="#f0f0f0"/>
<rect x="0" y="766" width="1639" height="1" fill="#a8a8a8"/>
<rect x="312" y="742" width="104" height="19" fill="#fff"/>
<rect x="312" y="742" width="1" height="19" fill="#000"/><rect x="415" y="742" width="1" height="19" fill="#000"/><rect x="312" y="760" width="104" height="1" fill="#000"/>
<rect x="313" y="761" width="104" height="1" fill="#a0a0a0"/><rect x="416" y="743" width="1" height="19" fill="#a0a0a0"/>
</g>
<text x="16" y="757" font-size="12.5" fill="#7a7a7a" textLength="80" lengthAdjust="spacingAndGlyphs" xml:space="preserve">EURUSD,Daily</text>
<text x="118" y="757" font-size="12.5" fill="#7a7a7a" textLength="79.4" lengthAdjust="spacingAndGlyphs" xml:space="preserve">USDCHF,Daily</text>
<text x="219" y="757" font-size="12.5" fill="#7a7a7a" textLength="82" lengthAdjust="spacingAndGlyphs" xml:space="preserve">AUDUSD,Daily</text>
<text x="323" y="757" font-size="12.5" fill="#000" textLength="81" lengthAdjust="spacingAndGlyphs" xml:space="preserve">USDCAD,Daily</text>
<text x="426.4" y="757" font-size="12.5" fill="#7a7a7a" textLength="82.6" lengthAdjust="spacingAndGlyphs" xml:space="preserve">USDCNH,Daily</text>
<text x="531" y="757" font-size="12.5" fill="#7a7a7a" textLength="78" lengthAdjust="spacingAndGlyphs" xml:space="preserve">EURUSD,M15</text>
<text x="631.5" y="757" font-size="12.5" fill="#7a7a7a" textLength="77.5" lengthAdjust="spacingAndGlyphs" xml:space="preserve">GBPUSD,M30</text>
<text x="731" y="757" font-size="12.5" fill="#7a7a7a" textLength="81" lengthAdjust="spacingAndGlyphs" xml:space="preserve">XAUUSD,Daily</text>
<text x="835" y="757" font-size="12.5" fill="#7a7a7a" textLength="49.6" lengthAdjust="spacingAndGlyphs" xml:space="preserve">HK50,H1</text>
<text x="907" y="757" font-size="12.5" fill="#7a7a7a" textLength="56.6" lengthAdjust="spacingAndGlyphs" xml:space="preserve">UK100,H1</text>
<text x="987.7" y="757" font-size="12.5" fill="#7a7a7a" textLength="55.9" lengthAdjust="spacingAndGlyphs" xml:space="preserve">UK100,H1</text>
<text x="1067.4" y="757" font-size="12.5" fill="#7a7a7a" textLength="56.2" lengthAdjust="spacingAndGlyphs" xml:space="preserve">GER30,H1</text>
<text x="1146.7" y="757" font-size="12.5" fill="#7a7a7a" textLength="53.8" lengthAdjust="spacingAndGlyphs" xml:space="preserve">FRA40,H1</text>
<text x="1222" y="757" font-size="12.5" fill="#7a7a7a" textLength="50.8" lengthAdjust="spacingAndGlyphs" xml:space="preserve">USOil,H4</text>
<text x="1294" y="757" font-size="12.5" fill="#7a7a7a" textLength="62.7" lengthAdjust="spacingAndGlyphs" xml:space="preserve">USDJPY,H1</text>
<text x="1379" y="757" font-size="12.5" fill="#7a7a7a" textLength="56.7" lengthAdjust="spacingAndGlyphs" xml:space="preserve">DJ30,M15</text>
<g shape-rendering="crispEdges">
<rect x="108" y="745" width="1" height="14" fill="#6e6e6e"/>
<rect x="208" y="745" width="1" height="14" fill="#6e6e6e"/>
<rect x="520" y="745" width="1" height="14" fill="#6e6e6e"/>
<rect x="620" y="745" width="1" height="14" fill="#6e6e6e"/>
<rect x="720" y="745" width="1" height="14" fill="#6e6e6e"/>
<rect x="824" y="745" width="1" height="14" fill="#6e6e6e"/>
<rect x="896" y="745" width="1" height="14" fill="#6e6e6e"/>
<rect x="977" y="745" width="1" height="14" fill="#6e6e6e"/>
<rect x="1056" y="745" width="1" height="14" fill="#6e6e6e"/>
<rect x="1136" y="745" width="1" height="14" fill="#6e6e6e"/>
<rect x="1212" y="745" width="1" height="14" fill="#6e6e6e"/>
<rect x="1284" y="745" width="1" height="14" fill="#6e6e6e"/>
<rect x="1368" y="745" width="1" height="14" fill="#6e6e6e"/>
<rect x="1448" y="745" width="1" height="14" fill="#6e6e6e"/>
</g>
<path d="M1614.5 747.5v7l-3.5 -3.5z" fill="#9a9a9a"/><path d="M1630 747.5v7l3.5 -3.5z" fill="#9a9a9a"/>
</svg>
</body></html>
